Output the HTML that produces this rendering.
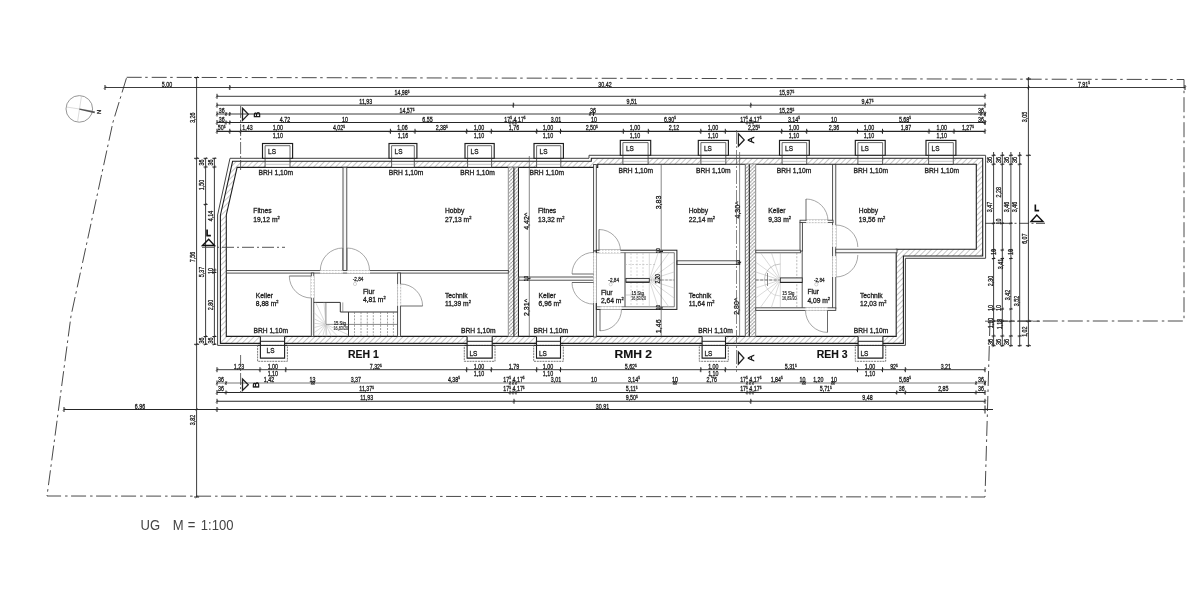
<!DOCTYPE html>
<html><head><meta charset="utf-8"><style>
html,body{margin:0;padding:0;background:#fff;width:1200px;height:600px;overflow:hidden}
svg{display:block;font-family:"Liberation Sans",sans-serif;filter:blur(0.35px)}
</style></head><body>
<svg width="1200" height="600" viewBox="0 0 1200 600">
<rect width="1200" height="600" fill="#fff"/>
<defs><pattern id="h" patternUnits="userSpaceOnUse" width="3.9" height="3.9" patternTransform="rotate(45)">
<rect width="3.9" height="3.9" fill="#fff"/><line x1="0" y1="0" x2="0" y2="3.9" stroke="#9a9a9a" stroke-width="1.1"/></pattern></defs>
<polyline points="126.70,77.30 1184.00,79.50 1184.00,321.00 988.00,321.00" fill="none" stroke="#4a4a4a" stroke-width="1.0" stroke-dasharray="15 3.5 2.5 4"/>
<polyline points="990.00,321.00 985.00,497.00 47.00,496.00 71.00,316.00 113.00,122.00 126.70,77.30" fill="none" stroke="#4a4a4a" stroke-width="1.0" stroke-dasharray="15 3.5 2.5 4"/>
<circle cx="79.3" cy="108.9" r="13.3" fill="none" stroke="#8a8a8a" stroke-width="0.9"/>
<line x1="81.50" y1="96.00" x2="77.50" y2="122.00" stroke="#c4c4c4" stroke-width="0.6"/>
<line x1="66.50" y1="107.00" x2="92.50" y2="111.00" stroke="#c4c4c4" stroke-width="0.6"/>
<polygon points="79.5,108.6 95,111.6 94.6,113.2 79.3,109.8" fill="#555"/>
<text transform="translate(96.80 111.90) rotate(90)" font-size="6" text-anchor="middle" font-weight="normal" fill="#333" stroke="#333" stroke-width="0.3">N</text>
<line x1="105.00" y1="87.50" x2="1185.00" y2="87.50" stroke="#262626" stroke-width="0.9"/>
<line x1="217.00" y1="96.30" x2="985.00" y2="96.30" stroke="#262626" stroke-width="0.9"/>
<line x1="217.00" y1="105.20" x2="985.00" y2="105.20" stroke="#262626" stroke-width="0.9"/>
<line x1="217.00" y1="114.00" x2="985.00" y2="114.00" stroke="#262626" stroke-width="0.9"/>
<line x1="217.00" y1="122.50" x2="985.00" y2="122.50" stroke="#262626" stroke-width="1.15"/>
<line x1="217.00" y1="131.30" x2="985.00" y2="131.30" stroke="#262626" stroke-width="1.15"/>
<line x1="105.00" y1="85.00" x2="105.00" y2="90.00" stroke="#262626" stroke-width="1.0"/>
<line x1="103.80" y1="88.70" x2="106.20" y2="86.30" stroke="#262626" stroke-width="0.6"/>
<line x1="229.80" y1="85.00" x2="229.80" y2="90.00" stroke="#262626" stroke-width="1.0"/>
<line x1="228.60" y1="88.70" x2="231.00" y2="86.30" stroke="#262626" stroke-width="0.6"/>
<line x1="1028.50" y1="85.00" x2="1028.50" y2="90.00" stroke="#262626" stroke-width="1.0"/>
<line x1="1027.30" y1="88.70" x2="1029.70" y2="86.30" stroke="#262626" stroke-width="0.6"/>
<line x1="1185.00" y1="85.00" x2="1185.00" y2="90.00" stroke="#262626" stroke-width="1.0"/>
<line x1="1183.80" y1="88.70" x2="1186.20" y2="86.30" stroke="#262626" stroke-width="0.6"/>
<line x1="217.00" y1="93.80" x2="217.00" y2="98.80" stroke="#262626" stroke-width="1.0"/>
<line x1="215.80" y1="97.50" x2="218.20" y2="95.10" stroke="#262626" stroke-width="0.6"/>
<line x1="985.00" y1="93.80" x2="985.00" y2="98.80" stroke="#262626" stroke-width="1.0"/>
<line x1="983.80" y1="97.50" x2="986.20" y2="95.10" stroke="#262626" stroke-width="0.6"/>
<line x1="217.00" y1="102.70" x2="217.00" y2="107.70" stroke="#262626" stroke-width="1.0"/>
<line x1="215.80" y1="106.40" x2="218.20" y2="104.00" stroke="#262626" stroke-width="0.6"/>
<line x1="985.00" y1="102.70" x2="985.00" y2="107.70" stroke="#262626" stroke-width="1.0"/>
<line x1="983.80" y1="106.40" x2="986.20" y2="104.00" stroke="#262626" stroke-width="0.6"/>
<line x1="217.00" y1="111.50" x2="217.00" y2="116.50" stroke="#262626" stroke-width="1.0"/>
<line x1="215.80" y1="115.20" x2="218.20" y2="112.80" stroke="#262626" stroke-width="0.6"/>
<line x1="985.00" y1="111.50" x2="985.00" y2="116.50" stroke="#262626" stroke-width="1.0"/>
<line x1="983.80" y1="115.20" x2="986.20" y2="112.80" stroke="#262626" stroke-width="0.6"/>
<line x1="217.00" y1="120.00" x2="217.00" y2="125.00" stroke="#262626" stroke-width="1.0"/>
<line x1="215.80" y1="123.70" x2="218.20" y2="121.30" stroke="#262626" stroke-width="0.6"/>
<line x1="985.00" y1="120.00" x2="985.00" y2="125.00" stroke="#262626" stroke-width="1.0"/>
<line x1="983.80" y1="123.70" x2="986.20" y2="121.30" stroke="#262626" stroke-width="0.6"/>
<line x1="217.00" y1="128.80" x2="217.00" y2="133.80" stroke="#262626" stroke-width="1.0"/>
<line x1="215.80" y1="132.50" x2="218.20" y2="130.10" stroke="#262626" stroke-width="0.6"/>
<line x1="985.00" y1="128.80" x2="985.00" y2="133.80" stroke="#262626" stroke-width="1.0"/>
<line x1="983.80" y1="132.50" x2="986.20" y2="130.10" stroke="#262626" stroke-width="0.6"/>
<line x1="513.30" y1="102.70" x2="513.30" y2="107.70" stroke="#262626" stroke-width="1.0"/>
<line x1="512.10" y1="106.40" x2="514.50" y2="104.00" stroke="#262626" stroke-width="0.6"/>
<line x1="750.80" y1="102.70" x2="750.80" y2="107.70" stroke="#262626" stroke-width="1.0"/>
<line x1="749.60" y1="106.40" x2="752.00" y2="104.00" stroke="#262626" stroke-width="0.6"/>
<line x1="229.80" y1="128.80" x2="229.80" y2="133.80" stroke="#262626" stroke-width="1.0"/>
<line x1="228.60" y1="132.50" x2="231.00" y2="130.10" stroke="#262626" stroke-width="0.6"/>
<line x1="240.60" y1="128.80" x2="240.60" y2="133.80" stroke="#262626" stroke-width="1.0"/>
<line x1="239.40" y1="132.50" x2="241.80" y2="130.10" stroke="#262626" stroke-width="0.6"/>
<line x1="390.40" y1="128.80" x2="390.40" y2="133.80" stroke="#262626" stroke-width="1.0"/>
<line x1="389.20" y1="132.50" x2="391.60" y2="130.10" stroke="#262626" stroke-width="0.6"/>
<line x1="415.00" y1="128.80" x2="415.00" y2="133.80" stroke="#262626" stroke-width="1.0"/>
<line x1="413.80" y1="132.50" x2="416.20" y2="130.10" stroke="#262626" stroke-width="0.6"/>
<line x1="466.70" y1="128.80" x2="466.70" y2="133.80" stroke="#262626" stroke-width="1.0"/>
<line x1="465.50" y1="132.50" x2="467.90" y2="130.10" stroke="#262626" stroke-width="0.6"/>
<line x1="491.30" y1="128.80" x2="491.30" y2="133.80" stroke="#262626" stroke-width="1.0"/>
<line x1="490.10" y1="132.50" x2="492.50" y2="130.10" stroke="#262626" stroke-width="0.6"/>
<line x1="536.70" y1="128.80" x2="536.70" y2="133.80" stroke="#262626" stroke-width="1.0"/>
<line x1="535.50" y1="132.50" x2="537.90" y2="130.10" stroke="#262626" stroke-width="0.6"/>
<line x1="560.50" y1="128.80" x2="560.50" y2="133.80" stroke="#262626" stroke-width="1.0"/>
<line x1="559.30" y1="132.50" x2="561.70" y2="130.10" stroke="#262626" stroke-width="0.6"/>
<line x1="623.30" y1="128.80" x2="623.30" y2="133.80" stroke="#262626" stroke-width="1.0"/>
<line x1="622.10" y1="132.50" x2="624.50" y2="130.10" stroke="#262626" stroke-width="0.6"/>
<line x1="648.30" y1="128.80" x2="648.30" y2="133.80" stroke="#262626" stroke-width="1.0"/>
<line x1="647.10" y1="132.50" x2="649.50" y2="130.10" stroke="#262626" stroke-width="0.6"/>
<line x1="700.80" y1="128.80" x2="700.80" y2="133.80" stroke="#262626" stroke-width="1.0"/>
<line x1="699.60" y1="132.50" x2="702.00" y2="130.10" stroke="#262626" stroke-width="0.6"/>
<line x1="725.30" y1="128.80" x2="725.30" y2="133.80" stroke="#262626" stroke-width="1.0"/>
<line x1="724.10" y1="132.50" x2="726.50" y2="130.10" stroke="#262626" stroke-width="0.6"/>
<line x1="781.70" y1="128.80" x2="781.70" y2="133.80" stroke="#262626" stroke-width="1.0"/>
<line x1="780.50" y1="132.50" x2="782.90" y2="130.10" stroke="#262626" stroke-width="0.6"/>
<line x1="806.70" y1="128.80" x2="806.70" y2="133.80" stroke="#262626" stroke-width="1.0"/>
<line x1="805.50" y1="132.50" x2="807.90" y2="130.10" stroke="#262626" stroke-width="0.6"/>
<line x1="857.50" y1="128.80" x2="857.50" y2="133.80" stroke="#262626" stroke-width="1.0"/>
<line x1="856.30" y1="132.50" x2="858.70" y2="130.10" stroke="#262626" stroke-width="0.6"/>
<line x1="882.50" y1="128.80" x2="882.50" y2="133.80" stroke="#262626" stroke-width="1.0"/>
<line x1="881.30" y1="132.50" x2="883.70" y2="130.10" stroke="#262626" stroke-width="0.6"/>
<line x1="929.00" y1="128.80" x2="929.00" y2="133.80" stroke="#262626" stroke-width="1.0"/>
<line x1="927.80" y1="132.50" x2="930.20" y2="130.10" stroke="#262626" stroke-width="0.6"/>
<line x1="954.00" y1="128.80" x2="954.00" y2="133.80" stroke="#262626" stroke-width="1.0"/>
<line x1="952.80" y1="132.50" x2="955.20" y2="130.10" stroke="#262626" stroke-width="0.6"/>
<line x1="226.00" y1="120.50" x2="226.00" y2="124.50" stroke="#262626" stroke-width="1.0"/>
<line x1="224.80" y1="123.70" x2="227.20" y2="121.30" stroke="#262626" stroke-width="0.6"/>
<line x1="229.80" y1="120.50" x2="229.80" y2="124.50" stroke="#262626" stroke-width="1.0"/>
<line x1="228.60" y1="123.70" x2="231.00" y2="121.30" stroke="#262626" stroke-width="0.6"/>
<line x1="510.00" y1="120.50" x2="510.00" y2="124.50" stroke="#262626" stroke-width="1.0"/>
<line x1="508.80" y1="123.70" x2="511.20" y2="121.30" stroke="#262626" stroke-width="0.6"/>
<line x1="513.00" y1="120.50" x2="513.00" y2="124.50" stroke="#262626" stroke-width="1.0"/>
<line x1="511.80" y1="123.70" x2="514.20" y2="121.30" stroke="#262626" stroke-width="0.6"/>
<line x1="516.00" y1="120.50" x2="516.00" y2="124.50" stroke="#262626" stroke-width="1.0"/>
<line x1="514.80" y1="123.70" x2="517.20" y2="121.30" stroke="#262626" stroke-width="0.6"/>
<line x1="747.00" y1="120.50" x2="747.00" y2="124.50" stroke="#262626" stroke-width="1.0"/>
<line x1="745.80" y1="123.70" x2="748.20" y2="121.30" stroke="#262626" stroke-width="0.6"/>
<line x1="750.00" y1="120.50" x2="750.00" y2="124.50" stroke="#262626" stroke-width="1.0"/>
<line x1="748.80" y1="123.70" x2="751.20" y2="121.30" stroke="#262626" stroke-width="0.6"/>
<line x1="753.00" y1="120.50" x2="753.00" y2="124.50" stroke="#262626" stroke-width="1.0"/>
<line x1="751.80" y1="123.70" x2="754.20" y2="121.30" stroke="#262626" stroke-width="0.6"/>
<line x1="985.00" y1="120.50" x2="985.00" y2="124.50" stroke="#262626" stroke-width="1.0"/>
<line x1="983.80" y1="123.70" x2="986.20" y2="121.30" stroke="#262626" stroke-width="0.6"/>
<line x1="226.00" y1="112.00" x2="226.00" y2="116.00" stroke="#262626" stroke-width="1.0"/>
<line x1="224.80" y1="115.20" x2="227.20" y2="112.80" stroke="#262626" stroke-width="0.6"/>
<line x1="229.80" y1="112.00" x2="229.80" y2="116.00" stroke="#262626" stroke-width="1.0"/>
<line x1="228.60" y1="115.20" x2="231.00" y2="112.80" stroke="#262626" stroke-width="0.6"/>
<line x1="590.00" y1="112.00" x2="590.00" y2="116.00" stroke="#262626" stroke-width="1.0"/>
<line x1="588.80" y1="115.20" x2="591.20" y2="112.80" stroke="#262626" stroke-width="0.6"/>
<line x1="593.50" y1="112.00" x2="593.50" y2="116.00" stroke="#262626" stroke-width="1.0"/>
<line x1="592.30" y1="115.20" x2="594.70" y2="112.80" stroke="#262626" stroke-width="0.6"/>
<line x1="981.00" y1="112.00" x2="981.00" y2="116.00" stroke="#262626" stroke-width="1.0"/>
<line x1="979.80" y1="115.20" x2="982.20" y2="112.80" stroke="#262626" stroke-width="0.6"/>
<line x1="985.00" y1="112.00" x2="985.00" y2="116.00" stroke="#262626" stroke-width="1.0"/>
<line x1="983.80" y1="115.20" x2="986.20" y2="112.80" stroke="#262626" stroke-width="0.6"/>
<text transform="translate(167.00 86.52) scale(0.76 1)" font-size="7" text-anchor="middle" font-weight="normal" fill="#1a1a1a" stroke="#1a1a1a" stroke-width="0.3">5,00</text>
<text transform="translate(605.00 86.52) scale(0.76 1)" font-size="7" text-anchor="middle" font-weight="normal" fill="#1a1a1a" stroke="#1a1a1a" stroke-width="0.3">30,42</text>
<text transform="translate(1084.00 86.52) scale(0.76 1)" font-size="7" text-anchor="middle" font-weight="normal" fill="#1a1a1a" stroke="#1a1a1a" stroke-width="0.3">7,91<tspan dy="-2.3" font-size="4.2">5</tspan></text>
<text transform="translate(402.00 95.02) scale(0.76 1)" font-size="7" text-anchor="middle" font-weight="normal" fill="#1a1a1a" stroke="#1a1a1a" stroke-width="0.3">14,98<tspan dy="-2.3" font-size="4.2">5</tspan></text>
<text transform="translate(786.70 95.02) scale(0.76 1)" font-size="7" text-anchor="middle" font-weight="normal" fill="#1a1a1a" stroke="#1a1a1a" stroke-width="0.3">15,97<tspan dy="-2.3" font-size="4.2">5</tspan></text>
<text transform="translate(365.80 104.22) scale(0.76 1)" font-size="7" text-anchor="middle" font-weight="normal" fill="#1a1a1a" stroke="#1a1a1a" stroke-width="0.3">11,93</text>
<text transform="translate(631.70 104.22) scale(0.76 1)" font-size="7" text-anchor="middle" font-weight="normal" fill="#1a1a1a" stroke="#1a1a1a" stroke-width="0.3">9,51</text>
<text transform="translate(867.50 104.22) scale(0.76 1)" font-size="7" text-anchor="middle" font-weight="normal" fill="#1a1a1a" stroke="#1a1a1a" stroke-width="0.3">9,47<tspan dy="-2.3" font-size="4.2">5</tspan></text>
<text transform="translate(407.00 113.02) scale(0.76 1)" font-size="7" text-anchor="middle" font-weight="normal" fill="#1a1a1a" stroke="#1a1a1a" stroke-width="0.3">14,57<tspan dy="-2.3" font-size="4.2">5</tspan></text>
<text transform="translate(786.70 113.02) scale(0.76 1)" font-size="7" text-anchor="middle" font-weight="normal" fill="#1a1a1a" stroke="#1a1a1a" stroke-width="0.3">15,25<tspan dy="-2.3" font-size="4.2">5</tspan></text>
<text transform="translate(221.70 113.12) scale(0.76 1)" font-size="7" text-anchor="middle" font-weight="normal" fill="#1a1a1a" stroke="#1a1a1a" stroke-width="0.3">36</text>
<text transform="translate(593.00 112.82) scale(0.76 1)" font-size="7" text-anchor="middle" font-weight="normal" fill="#1a1a1a" stroke="#1a1a1a" stroke-width="0.3">36</text>
<text transform="translate(981.00 112.82) scale(0.76 1)" font-size="7" text-anchor="middle" font-weight="normal" fill="#1a1a1a" stroke="#1a1a1a" stroke-width="0.3">36</text>
<text transform="translate(221.70 121.52) scale(0.76 1)" font-size="7" text-anchor="middle" font-weight="normal" fill="#1a1a1a" stroke="#1a1a1a" stroke-width="0.3">36</text>
<text transform="translate(285.00 121.52) scale(0.76 1)" font-size="7" text-anchor="middle" font-weight="normal" fill="#1a1a1a" stroke="#1a1a1a" stroke-width="0.3">4,72</text>
<text transform="translate(345.00 121.52) scale(0.76 1)" font-size="7" text-anchor="middle" font-weight="normal" fill="#1a1a1a" stroke="#1a1a1a" stroke-width="0.3">10</text>
<text transform="translate(427.50 121.52) scale(0.76 1)" font-size="7" text-anchor="middle" font-weight="normal" fill="#1a1a1a" stroke="#1a1a1a" stroke-width="0.3">6,55</text>
<text transform="translate(515.00 121.52) scale(0.76 1)" font-size="7" text-anchor="middle" font-weight="normal" fill="#1a1a1a" stroke="#1a1a1a" stroke-width="0.3">17<tspan dy="-2.3" font-size="4.2">5</tspan><tspan dy="2.3"> 4 17<tspan dy="-2.3" font-size="4.2">5</tspan></tspan></text>
<text transform="translate(556.00 121.52) scale(0.76 1)" font-size="7" text-anchor="middle" font-weight="normal" fill="#1a1a1a" stroke="#1a1a1a" stroke-width="0.3">3,01</text>
<text transform="translate(594.00 121.52) scale(0.76 1)" font-size="7" text-anchor="middle" font-weight="normal" fill="#1a1a1a" stroke="#1a1a1a" stroke-width="0.3">10</text>
<text transform="translate(670.00 121.52) scale(0.76 1)" font-size="7" text-anchor="middle" font-weight="normal" fill="#1a1a1a" stroke="#1a1a1a" stroke-width="0.3">6,90<tspan dy="-2.3" font-size="4.2">5</tspan></text>
<text transform="translate(750.80 121.52) scale(0.76 1)" font-size="7" text-anchor="middle" font-weight="normal" fill="#1a1a1a" stroke="#1a1a1a" stroke-width="0.3">17<tspan dy="-2.3" font-size="4.2">5</tspan><tspan dy="2.3"> 4 17<tspan dy="-2.3" font-size="4.2">5</tspan></tspan></text>
<text transform="translate(794.00 121.52) scale(0.76 1)" font-size="7" text-anchor="middle" font-weight="normal" fill="#1a1a1a" stroke="#1a1a1a" stroke-width="0.3">3,14<tspan dy="-2.3" font-size="4.2">5</tspan></text>
<text transform="translate(834.00 121.52) scale(0.76 1)" font-size="7" text-anchor="middle" font-weight="normal" fill="#1a1a1a" stroke="#1a1a1a" stroke-width="0.3">10</text>
<text transform="translate(905.00 121.52) scale(0.76 1)" font-size="7" text-anchor="middle" font-weight="normal" fill="#1a1a1a" stroke="#1a1a1a" stroke-width="0.3">5,68<tspan dy="-2.3" font-size="4.2">5</tspan></text>
<text transform="translate(981.00 121.52) scale(0.76 1)" font-size="7" text-anchor="middle" font-weight="normal" fill="#1a1a1a" stroke="#1a1a1a" stroke-width="0.3">36</text>
<text transform="translate(221.70 130.02) scale(0.76 1)" font-size="7" text-anchor="middle" font-weight="normal" fill="#1a1a1a" stroke="#1a1a1a" stroke-width="0.3">50<tspan dy="-2.3" font-size="4.2">5</tspan></text>
<text transform="translate(247.50 130.02) scale(0.76 1)" font-size="7" text-anchor="middle" font-weight="normal" fill="#1a1a1a" stroke="#1a1a1a" stroke-width="0.3">1,43</text>
<text transform="translate(277.80 130.02) scale(0.76 1)" font-size="7" text-anchor="middle" font-weight="normal" fill="#1a1a1a" stroke="#1a1a1a" stroke-width="0.3">1,00</text>
<text transform="translate(339.00 130.02) scale(0.76 1)" font-size="7" text-anchor="middle" font-weight="normal" fill="#1a1a1a" stroke="#1a1a1a" stroke-width="0.3">4,02<tspan dy="-2.3" font-size="4.2">5</tspan></text>
<text transform="translate(402.50 130.02) scale(0.76 1)" font-size="7" text-anchor="middle" font-weight="normal" fill="#1a1a1a" stroke="#1a1a1a" stroke-width="0.3">1,06</text>
<text transform="translate(441.70 130.02) scale(0.76 1)" font-size="7" text-anchor="middle" font-weight="normal" fill="#1a1a1a" stroke="#1a1a1a" stroke-width="0.3">2,38<tspan dy="-2.3" font-size="4.2">5</tspan></text>
<text transform="translate(479.00 130.02) scale(0.76 1)" font-size="7" text-anchor="middle" font-weight="normal" fill="#1a1a1a" stroke="#1a1a1a" stroke-width="0.3">1,00</text>
<text transform="translate(514.00 130.02) scale(0.76 1)" font-size="7" text-anchor="middle" font-weight="normal" fill="#1a1a1a" stroke="#1a1a1a" stroke-width="0.3">1,76</text>
<text transform="translate(548.00 130.02) scale(0.76 1)" font-size="7" text-anchor="middle" font-weight="normal" fill="#1a1a1a" stroke="#1a1a1a" stroke-width="0.3">1,00</text>
<text transform="translate(591.70 130.02) scale(0.76 1)" font-size="7" text-anchor="middle" font-weight="normal" fill="#1a1a1a" stroke="#1a1a1a" stroke-width="0.3">2,50<tspan dy="-2.3" font-size="4.2">5</tspan></text>
<text transform="translate(635.00 130.02) scale(0.76 1)" font-size="7" text-anchor="middle" font-weight="normal" fill="#1a1a1a" stroke="#1a1a1a" stroke-width="0.3">1,00</text>
<text transform="translate(674.00 130.02) scale(0.76 1)" font-size="7" text-anchor="middle" font-weight="normal" fill="#1a1a1a" stroke="#1a1a1a" stroke-width="0.3">2,12</text>
<text transform="translate(713.00 130.02) scale(0.76 1)" font-size="7" text-anchor="middle" font-weight="normal" fill="#1a1a1a" stroke="#1a1a1a" stroke-width="0.3">1,00</text>
<text transform="translate(754.00 130.02) scale(0.76 1)" font-size="7" text-anchor="middle" font-weight="normal" fill="#1a1a1a" stroke="#1a1a1a" stroke-width="0.3">2,25<tspan dy="-2.3" font-size="4.2">5</tspan></text>
<text transform="translate(794.00 130.02) scale(0.76 1)" font-size="7" text-anchor="middle" font-weight="normal" fill="#1a1a1a" stroke="#1a1a1a" stroke-width="0.3">1,00</text>
<text transform="translate(834.00 130.02) scale(0.76 1)" font-size="7" text-anchor="middle" font-weight="normal" fill="#1a1a1a" stroke="#1a1a1a" stroke-width="0.3">2,36</text>
<text transform="translate(869.00 130.02) scale(0.76 1)" font-size="7" text-anchor="middle" font-weight="normal" fill="#1a1a1a" stroke="#1a1a1a" stroke-width="0.3">1,00</text>
<text transform="translate(906.00 130.02) scale(0.76 1)" font-size="7" text-anchor="middle" font-weight="normal" fill="#1a1a1a" stroke="#1a1a1a" stroke-width="0.3">1,87</text>
<text transform="translate(941.70 130.02) scale(0.76 1)" font-size="7" text-anchor="middle" font-weight="normal" fill="#1a1a1a" stroke="#1a1a1a" stroke-width="0.3">1,00</text>
<text transform="translate(968.00 130.02) scale(0.76 1)" font-size="7" text-anchor="middle" font-weight="normal" fill="#1a1a1a" stroke="#1a1a1a" stroke-width="0.3">1,27<tspan dy="-2.3" font-size="4.2">5</tspan></text>
<text transform="translate(277.80 137.52) scale(0.76 1)" font-size="7" text-anchor="middle" font-weight="normal" fill="#1a1a1a" stroke="#1a1a1a" stroke-width="0.3">1,10</text>
<text transform="translate(403.00 137.52) scale(0.76 1)" font-size="7" text-anchor="middle" font-weight="normal" fill="#1a1a1a" stroke="#1a1a1a" stroke-width="0.3">1,16</text>
<text transform="translate(479.00 137.52) scale(0.76 1)" font-size="7" text-anchor="middle" font-weight="normal" fill="#1a1a1a" stroke="#1a1a1a" stroke-width="0.3">1,10</text>
<text transform="translate(548.00 137.52) scale(0.76 1)" font-size="7" text-anchor="middle" font-weight="normal" fill="#1a1a1a" stroke="#1a1a1a" stroke-width="0.3">1,10</text>
<text transform="translate(635.00 137.52) scale(0.76 1)" font-size="7" text-anchor="middle" font-weight="normal" fill="#1a1a1a" stroke="#1a1a1a" stroke-width="0.3">1,10</text>
<text transform="translate(713.00 137.52) scale(0.76 1)" font-size="7" text-anchor="middle" font-weight="normal" fill="#1a1a1a" stroke="#1a1a1a" stroke-width="0.3">1,10</text>
<text transform="translate(794.00 137.52) scale(0.76 1)" font-size="7" text-anchor="middle" font-weight="normal" fill="#1a1a1a" stroke="#1a1a1a" stroke-width="0.3">1,10</text>
<text transform="translate(869.00 137.52) scale(0.76 1)" font-size="7" text-anchor="middle" font-weight="normal" fill="#1a1a1a" stroke="#1a1a1a" stroke-width="0.3">1,10</text>
<text transform="translate(941.70 137.52) scale(0.76 1)" font-size="7" text-anchor="middle" font-weight="normal" fill="#1a1a1a" stroke="#1a1a1a" stroke-width="0.3">1,10</text>
<line x1="217.00" y1="369.70" x2="985.00" y2="369.70" stroke="#262626" stroke-width="0.9"/>
<line x1="217.00" y1="383.00" x2="985.00" y2="383.00" stroke="#6a6a6a" stroke-width="0.9"/>
<line x1="217.00" y1="392.50" x2="985.00" y2="392.50" stroke="#262626" stroke-width="1.1"/>
<line x1="217.00" y1="401.30" x2="985.00" y2="401.30" stroke="#262626" stroke-width="1.1"/>
<line x1="64.00" y1="409.50" x2="993.00" y2="409.50" stroke="#262626" stroke-width="1.1"/>
<line x1="217.00" y1="367.20" x2="217.00" y2="372.20" stroke="#262626" stroke-width="1.0"/>
<line x1="215.80" y1="370.90" x2="218.20" y2="368.50" stroke="#262626" stroke-width="0.6"/>
<line x1="985.00" y1="367.20" x2="985.00" y2="372.20" stroke="#262626" stroke-width="1.0"/>
<line x1="983.80" y1="370.90" x2="986.20" y2="368.50" stroke="#262626" stroke-width="0.6"/>
<line x1="217.00" y1="380.50" x2="217.00" y2="385.50" stroke="#262626" stroke-width="1.0"/>
<line x1="215.80" y1="384.20" x2="218.20" y2="381.80" stroke="#262626" stroke-width="0.6"/>
<line x1="985.00" y1="380.50" x2="985.00" y2="385.50" stroke="#262626" stroke-width="1.0"/>
<line x1="983.80" y1="384.20" x2="986.20" y2="381.80" stroke="#262626" stroke-width="0.6"/>
<line x1="217.00" y1="390.00" x2="217.00" y2="395.00" stroke="#262626" stroke-width="1.0"/>
<line x1="215.80" y1="393.70" x2="218.20" y2="391.30" stroke="#262626" stroke-width="0.6"/>
<line x1="985.00" y1="390.00" x2="985.00" y2="395.00" stroke="#262626" stroke-width="1.0"/>
<line x1="983.80" y1="393.70" x2="986.20" y2="391.30" stroke="#262626" stroke-width="0.6"/>
<line x1="217.00" y1="398.80" x2="217.00" y2="403.80" stroke="#262626" stroke-width="1.0"/>
<line x1="215.80" y1="402.50" x2="218.20" y2="400.10" stroke="#262626" stroke-width="0.6"/>
<line x1="985.00" y1="398.80" x2="985.00" y2="403.80" stroke="#262626" stroke-width="1.0"/>
<line x1="983.80" y1="402.50" x2="986.20" y2="400.10" stroke="#262626" stroke-width="0.6"/>
<line x1="64.00" y1="407.00" x2="64.00" y2="412.00" stroke="#262626" stroke-width="1.0"/>
<line x1="62.80" y1="410.70" x2="65.20" y2="408.30" stroke="#262626" stroke-width="0.6"/>
<line x1="217.00" y1="407.00" x2="217.00" y2="412.00" stroke="#262626" stroke-width="1.0"/>
<line x1="215.80" y1="410.70" x2="218.20" y2="408.30" stroke="#262626" stroke-width="0.6"/>
<line x1="985.00" y1="405.50" x2="985.00" y2="413.50" stroke="#262626" stroke-width="1.0"/>
<line x1="983.80" y1="410.70" x2="986.20" y2="408.30" stroke="#262626" stroke-width="0.6"/>
<line x1="260.00" y1="367.20" x2="260.00" y2="372.20" stroke="#262626" stroke-width="1.0"/>
<line x1="258.80" y1="370.90" x2="261.20" y2="368.50" stroke="#262626" stroke-width="0.6"/>
<line x1="285.80" y1="367.20" x2="285.80" y2="372.20" stroke="#262626" stroke-width="1.0"/>
<line x1="284.60" y1="370.90" x2="287.00" y2="368.50" stroke="#262626" stroke-width="0.6"/>
<line x1="466.70" y1="367.20" x2="466.70" y2="372.20" stroke="#262626" stroke-width="1.0"/>
<line x1="465.50" y1="370.90" x2="467.90" y2="368.50" stroke="#262626" stroke-width="0.6"/>
<line x1="491.30" y1="367.20" x2="491.30" y2="372.20" stroke="#262626" stroke-width="1.0"/>
<line x1="490.10" y1="370.90" x2="492.50" y2="368.50" stroke="#262626" stroke-width="0.6"/>
<line x1="536.70" y1="367.20" x2="536.70" y2="372.20" stroke="#262626" stroke-width="1.0"/>
<line x1="535.50" y1="370.90" x2="537.90" y2="368.50" stroke="#262626" stroke-width="0.6"/>
<line x1="560.50" y1="367.20" x2="560.50" y2="372.20" stroke="#262626" stroke-width="1.0"/>
<line x1="559.30" y1="370.90" x2="561.70" y2="368.50" stroke="#262626" stroke-width="0.6"/>
<line x1="700.80" y1="367.20" x2="700.80" y2="372.20" stroke="#262626" stroke-width="1.0"/>
<line x1="699.60" y1="370.90" x2="702.00" y2="368.50" stroke="#262626" stroke-width="0.6"/>
<line x1="725.30" y1="367.20" x2="725.30" y2="372.20" stroke="#262626" stroke-width="1.0"/>
<line x1="724.10" y1="370.90" x2="726.50" y2="368.50" stroke="#262626" stroke-width="0.6"/>
<line x1="857.50" y1="367.20" x2="857.50" y2="372.20" stroke="#262626" stroke-width="1.0"/>
<line x1="856.30" y1="370.90" x2="858.70" y2="368.50" stroke="#262626" stroke-width="0.6"/>
<line x1="882.50" y1="367.20" x2="882.50" y2="372.20" stroke="#262626" stroke-width="1.0"/>
<line x1="881.30" y1="370.90" x2="883.70" y2="368.50" stroke="#262626" stroke-width="0.6"/>
<line x1="905.30" y1="367.20" x2="905.30" y2="372.20" stroke="#262626" stroke-width="1.0"/>
<line x1="904.10" y1="370.90" x2="906.50" y2="368.50" stroke="#262626" stroke-width="0.6"/>
<line x1="226.00" y1="381.00" x2="226.00" y2="385.00" stroke="#262626" stroke-width="1.0"/>
<line x1="224.80" y1="384.20" x2="227.20" y2="381.80" stroke="#262626" stroke-width="0.6"/>
<line x1="312.00" y1="381.00" x2="312.00" y2="385.00" stroke="#262626" stroke-width="1.0"/>
<line x1="310.80" y1="384.20" x2="313.20" y2="381.80" stroke="#262626" stroke-width="0.6"/>
<line x1="314.00" y1="381.00" x2="314.00" y2="385.00" stroke="#262626" stroke-width="1.0"/>
<line x1="312.80" y1="384.20" x2="315.20" y2="381.80" stroke="#262626" stroke-width="0.6"/>
<line x1="510.00" y1="381.00" x2="510.00" y2="385.00" stroke="#262626" stroke-width="1.0"/>
<line x1="508.80" y1="384.20" x2="511.20" y2="381.80" stroke="#262626" stroke-width="0.6"/>
<line x1="513.00" y1="381.00" x2="513.00" y2="385.00" stroke="#262626" stroke-width="1.0"/>
<line x1="511.80" y1="384.20" x2="514.20" y2="381.80" stroke="#262626" stroke-width="0.6"/>
<line x1="516.00" y1="381.00" x2="516.00" y2="385.00" stroke="#262626" stroke-width="1.0"/>
<line x1="514.80" y1="384.20" x2="517.20" y2="381.80" stroke="#262626" stroke-width="0.6"/>
<line x1="674.00" y1="381.00" x2="674.00" y2="385.00" stroke="#262626" stroke-width="1.0"/>
<line x1="672.80" y1="384.20" x2="675.20" y2="381.80" stroke="#262626" stroke-width="0.6"/>
<line x1="676.00" y1="381.00" x2="676.00" y2="385.00" stroke="#262626" stroke-width="1.0"/>
<line x1="674.80" y1="384.20" x2="677.20" y2="381.80" stroke="#262626" stroke-width="0.6"/>
<line x1="747.00" y1="381.00" x2="747.00" y2="385.00" stroke="#262626" stroke-width="1.0"/>
<line x1="745.80" y1="384.20" x2="748.20" y2="381.80" stroke="#262626" stroke-width="0.6"/>
<line x1="750.00" y1="381.00" x2="750.00" y2="385.00" stroke="#262626" stroke-width="1.0"/>
<line x1="748.80" y1="384.20" x2="751.20" y2="381.80" stroke="#262626" stroke-width="0.6"/>
<line x1="753.00" y1="381.00" x2="753.00" y2="385.00" stroke="#262626" stroke-width="1.0"/>
<line x1="751.80" y1="384.20" x2="754.20" y2="381.80" stroke="#262626" stroke-width="0.6"/>
<line x1="803.00" y1="381.00" x2="803.00" y2="385.00" stroke="#262626" stroke-width="1.0"/>
<line x1="801.80" y1="384.20" x2="804.20" y2="381.80" stroke="#262626" stroke-width="0.6"/>
<line x1="805.00" y1="381.00" x2="805.00" y2="385.00" stroke="#262626" stroke-width="1.0"/>
<line x1="803.80" y1="384.20" x2="806.20" y2="381.80" stroke="#262626" stroke-width="0.6"/>
<line x1="832.00" y1="381.00" x2="832.00" y2="385.00" stroke="#262626" stroke-width="1.0"/>
<line x1="830.80" y1="384.20" x2="833.20" y2="381.80" stroke="#262626" stroke-width="0.6"/>
<line x1="834.00" y1="381.00" x2="834.00" y2="385.00" stroke="#262626" stroke-width="1.0"/>
<line x1="832.80" y1="384.20" x2="835.20" y2="381.80" stroke="#262626" stroke-width="0.6"/>
<line x1="976.00" y1="381.00" x2="976.00" y2="385.00" stroke="#262626" stroke-width="1.0"/>
<line x1="974.80" y1="384.20" x2="977.20" y2="381.80" stroke="#262626" stroke-width="0.6"/>
<line x1="985.00" y1="381.00" x2="985.00" y2="385.00" stroke="#262626" stroke-width="1.0"/>
<line x1="983.80" y1="384.20" x2="986.20" y2="381.80" stroke="#262626" stroke-width="0.6"/>
<line x1="226.00" y1="390.50" x2="226.00" y2="394.50" stroke="#262626" stroke-width="1.0"/>
<line x1="224.80" y1="393.70" x2="227.20" y2="391.30" stroke="#262626" stroke-width="0.6"/>
<line x1="510.00" y1="390.50" x2="510.00" y2="394.50" stroke="#262626" stroke-width="1.0"/>
<line x1="508.80" y1="393.70" x2="511.20" y2="391.30" stroke="#262626" stroke-width="0.6"/>
<line x1="513.00" y1="390.50" x2="513.00" y2="394.50" stroke="#262626" stroke-width="1.0"/>
<line x1="511.80" y1="393.70" x2="514.20" y2="391.30" stroke="#262626" stroke-width="0.6"/>
<line x1="516.00" y1="390.50" x2="516.00" y2="394.50" stroke="#262626" stroke-width="1.0"/>
<line x1="514.80" y1="393.70" x2="517.20" y2="391.30" stroke="#262626" stroke-width="0.6"/>
<line x1="747.00" y1="390.50" x2="747.00" y2="394.50" stroke="#262626" stroke-width="1.0"/>
<line x1="745.80" y1="393.70" x2="748.20" y2="391.30" stroke="#262626" stroke-width="0.6"/>
<line x1="750.00" y1="390.50" x2="750.00" y2="394.50" stroke="#262626" stroke-width="1.0"/>
<line x1="748.80" y1="393.70" x2="751.20" y2="391.30" stroke="#262626" stroke-width="0.6"/>
<line x1="753.00" y1="390.50" x2="753.00" y2="394.50" stroke="#262626" stroke-width="1.0"/>
<line x1="751.80" y1="393.70" x2="754.20" y2="391.30" stroke="#262626" stroke-width="0.6"/>
<line x1="896.70" y1="390.50" x2="896.70" y2="394.50" stroke="#262626" stroke-width="1.0"/>
<line x1="895.50" y1="393.70" x2="897.90" y2="391.30" stroke="#262626" stroke-width="0.6"/>
<line x1="905.30" y1="390.50" x2="905.30" y2="394.50" stroke="#262626" stroke-width="1.0"/>
<line x1="904.10" y1="393.70" x2="906.50" y2="391.30" stroke="#262626" stroke-width="0.6"/>
<line x1="976.00" y1="390.50" x2="976.00" y2="394.50" stroke="#262626" stroke-width="1.0"/>
<line x1="974.80" y1="393.70" x2="977.20" y2="391.30" stroke="#262626" stroke-width="0.6"/>
<line x1="514.00" y1="398.80" x2="514.00" y2="403.80" stroke="#262626" stroke-width="1.0"/>
<line x1="512.80" y1="402.50" x2="515.20" y2="400.10" stroke="#262626" stroke-width="0.6"/>
<line x1="750.80" y1="398.80" x2="750.80" y2="403.80" stroke="#262626" stroke-width="1.0"/>
<line x1="749.60" y1="402.50" x2="752.00" y2="400.10" stroke="#262626" stroke-width="0.6"/>
<text transform="translate(140.00 408.52) scale(0.76 1)" font-size="7" text-anchor="middle" font-weight="normal" fill="#1a1a1a" stroke="#1a1a1a" stroke-width="0.3">6,96</text>
<text transform="translate(602.50 408.52) scale(0.76 1)" font-size="7" text-anchor="middle" font-weight="normal" fill="#1a1a1a" stroke="#1a1a1a" stroke-width="0.3">30,91</text>
<text transform="translate(239.00 369.02) scale(0.76 1)" font-size="7" text-anchor="middle" font-weight="normal" fill="#1a1a1a" stroke="#1a1a1a" stroke-width="0.3">1,23</text>
<text transform="translate(272.80 369.02) scale(0.76 1)" font-size="7" text-anchor="middle" font-weight="normal" fill="#1a1a1a" stroke="#1a1a1a" stroke-width="0.3">1,00</text>
<text transform="translate(375.80 369.02) scale(0.76 1)" font-size="7" text-anchor="middle" font-weight="normal" fill="#1a1a1a" stroke="#1a1a1a" stroke-width="0.3">7,32<tspan dy="-2.3" font-size="4.2">5</tspan></text>
<text transform="translate(479.00 369.02) scale(0.76 1)" font-size="7" text-anchor="middle" font-weight="normal" fill="#1a1a1a" stroke="#1a1a1a" stroke-width="0.3">1,00</text>
<text transform="translate(514.00 369.02) scale(0.76 1)" font-size="7" text-anchor="middle" font-weight="normal" fill="#1a1a1a" stroke="#1a1a1a" stroke-width="0.3">1,79</text>
<text transform="translate(548.00 369.02) scale(0.76 1)" font-size="7" text-anchor="middle" font-weight="normal" fill="#1a1a1a" stroke="#1a1a1a" stroke-width="0.3">1,00</text>
<text transform="translate(630.80 369.02) scale(0.76 1)" font-size="7" text-anchor="middle" font-weight="normal" fill="#1a1a1a" stroke="#1a1a1a" stroke-width="0.3">5,62<tspan dy="-2.3" font-size="4.2">5</tspan></text>
<text transform="translate(713.30 369.02) scale(0.76 1)" font-size="7" text-anchor="middle" font-weight="normal" fill="#1a1a1a" stroke="#1a1a1a" stroke-width="0.3">1,00</text>
<text transform="translate(790.80 369.02) scale(0.76 1)" font-size="7" text-anchor="middle" font-weight="normal" fill="#1a1a1a" stroke="#1a1a1a" stroke-width="0.3">5,31<tspan dy="-2.3" font-size="4.2">5</tspan></text>
<text transform="translate(870.00 369.02) scale(0.76 1)" font-size="7" text-anchor="middle" font-weight="normal" fill="#1a1a1a" stroke="#1a1a1a" stroke-width="0.3">1,00</text>
<text transform="translate(894.00 369.02) scale(0.76 1)" font-size="7" text-anchor="middle" font-weight="normal" fill="#1a1a1a" stroke="#1a1a1a" stroke-width="0.3">92<tspan dy="-2.3" font-size="4.2">5</tspan></text>
<text transform="translate(945.80 369.02) scale(0.76 1)" font-size="7" text-anchor="middle" font-weight="normal" fill="#1a1a1a" stroke="#1a1a1a" stroke-width="0.3">3,21</text>
<text transform="translate(272.80 375.82) scale(0.76 1)" font-size="7" text-anchor="middle" font-weight="normal" fill="#1a1a1a" stroke="#1a1a1a" stroke-width="0.3">1,10</text>
<text transform="translate(479.00 375.82) scale(0.76 1)" font-size="7" text-anchor="middle" font-weight="normal" fill="#1a1a1a" stroke="#1a1a1a" stroke-width="0.3">1,10</text>
<text transform="translate(548.00 375.82) scale(0.76 1)" font-size="7" text-anchor="middle" font-weight="normal" fill="#1a1a1a" stroke="#1a1a1a" stroke-width="0.3">1,10</text>
<text transform="translate(713.30 375.82) scale(0.76 1)" font-size="7" text-anchor="middle" font-weight="normal" fill="#1a1a1a" stroke="#1a1a1a" stroke-width="0.3">1,10</text>
<text transform="translate(870.00 375.82) scale(0.76 1)" font-size="7" text-anchor="middle" font-weight="normal" fill="#1a1a1a" stroke="#1a1a1a" stroke-width="0.3">1,10</text>
<text transform="translate(221.00 381.52) scale(0.76 1)" font-size="7" text-anchor="middle" font-weight="normal" fill="#1a1a1a" stroke="#1a1a1a" stroke-width="0.3">36</text>
<text transform="translate(269.00 381.52) scale(0.76 1)" font-size="7" text-anchor="middle" font-weight="normal" fill="#1a1a1a" stroke="#1a1a1a" stroke-width="0.3">1,42</text>
<text transform="translate(312.50 381.52) scale(0.76 1)" font-size="7" text-anchor="middle" font-weight="normal" fill="#1a1a1a" stroke="#1a1a1a" stroke-width="0.3">13</text>
<text transform="translate(355.80 381.52) scale(0.76 1)" font-size="7" text-anchor="middle" font-weight="normal" fill="#1a1a1a" stroke="#1a1a1a" stroke-width="0.3">3,37</text>
<text transform="translate(454.00 381.52) scale(0.76 1)" font-size="7" text-anchor="middle" font-weight="normal" fill="#1a1a1a" stroke="#1a1a1a" stroke-width="0.3">4,38<tspan dy="-2.3" font-size="4.2">5</tspan></text>
<text transform="translate(514.00 381.52) scale(0.76 1)" font-size="7" text-anchor="middle" font-weight="normal" fill="#1a1a1a" stroke="#1a1a1a" stroke-width="0.3">17<tspan dy="-2.3" font-size="4.2">5</tspan><tspan dy="2.3"> 4 17<tspan dy="-2.3" font-size="4.2">5</tspan></tspan></text>
<text transform="translate(556.00 381.52) scale(0.76 1)" font-size="7" text-anchor="middle" font-weight="normal" fill="#1a1a1a" stroke="#1a1a1a" stroke-width="0.3">3,01</text>
<text transform="translate(594.00 381.52) scale(0.76 1)" font-size="7" text-anchor="middle" font-weight="normal" fill="#1a1a1a" stroke="#1a1a1a" stroke-width="0.3">10</text>
<text transform="translate(634.00 381.52) scale(0.76 1)" font-size="7" text-anchor="middle" font-weight="normal" fill="#1a1a1a" stroke="#1a1a1a" stroke-width="0.3">3,14<tspan dy="-2.3" font-size="4.2">5</tspan></text>
<text transform="translate(675.00 381.52) scale(0.76 1)" font-size="7" text-anchor="middle" font-weight="normal" fill="#1a1a1a" stroke="#1a1a1a" stroke-width="0.3">10</text>
<text transform="translate(711.70 381.52) scale(0.76 1)" font-size="7" text-anchor="middle" font-weight="normal" fill="#1a1a1a" stroke="#1a1a1a" stroke-width="0.3">2,76</text>
<text transform="translate(750.80 381.52) scale(0.76 1)" font-size="7" text-anchor="middle" font-weight="normal" fill="#1a1a1a" stroke="#1a1a1a" stroke-width="0.3">17<tspan dy="-2.3" font-size="4.2">5</tspan><tspan dy="2.3"> 4 17<tspan dy="-2.3" font-size="4.2">5</tspan></tspan></text>
<text transform="translate(776.70 381.52) scale(0.76 1)" font-size="7" text-anchor="middle" font-weight="normal" fill="#1a1a1a" stroke="#1a1a1a" stroke-width="0.3">1,84<tspan dy="-2.3" font-size="4.2">5</tspan></text>
<text transform="translate(802.50 381.52) scale(0.76 1)" font-size="7" text-anchor="middle" font-weight="normal" fill="#1a1a1a" stroke="#1a1a1a" stroke-width="0.3">10</text>
<text transform="translate(818.30 381.52) scale(0.76 1)" font-size="7" text-anchor="middle" font-weight="normal" fill="#1a1a1a" stroke="#1a1a1a" stroke-width="0.3">1,20</text>
<text transform="translate(834.00 381.52) scale(0.76 1)" font-size="7" text-anchor="middle" font-weight="normal" fill="#1a1a1a" stroke="#1a1a1a" stroke-width="0.3">10</text>
<text transform="translate(905.00 381.52) scale(0.76 1)" font-size="7" text-anchor="middle" font-weight="normal" fill="#1a1a1a" stroke="#1a1a1a" stroke-width="0.3">5,68<tspan dy="-2.3" font-size="4.2">5</tspan></text>
<text transform="translate(981.00 381.52) scale(0.76 1)" font-size="7" text-anchor="middle" font-weight="normal" fill="#1a1a1a" stroke="#1a1a1a" stroke-width="0.3">36</text>
<text transform="translate(221.00 391.02) scale(0.76 1)" font-size="7" text-anchor="middle" font-weight="normal" fill="#1a1a1a" stroke="#1a1a1a" stroke-width="0.3">36</text>
<text transform="translate(366.70 391.02) scale(0.76 1)" font-size="7" text-anchor="middle" font-weight="normal" fill="#1a1a1a" stroke="#1a1a1a" stroke-width="0.3">11,37<tspan dy="-2.3" font-size="4.2">5</tspan></text>
<text transform="translate(514.00 391.02) scale(0.76 1)" font-size="7" text-anchor="middle" font-weight="normal" fill="#1a1a1a" stroke="#1a1a1a" stroke-width="0.3">17<tspan dy="-2.3" font-size="4.2">5</tspan><tspan dy="2.3"> 4 17<tspan dy="-2.3" font-size="4.2">5</tspan></tspan></text>
<text transform="translate(631.70 391.02) scale(0.76 1)" font-size="7" text-anchor="middle" font-weight="normal" fill="#1a1a1a" stroke="#1a1a1a" stroke-width="0.3">5,11<tspan dy="-2.3" font-size="4.2">5</tspan></text>
<text transform="translate(750.80 391.02) scale(0.76 1)" font-size="7" text-anchor="middle" font-weight="normal" fill="#1a1a1a" stroke="#1a1a1a" stroke-width="0.3">17<tspan dy="-2.3" font-size="4.2">5</tspan><tspan dy="2.3"> 4 17<tspan dy="-2.3" font-size="4.2">5</tspan></tspan></text>
<text transform="translate(825.80 391.02) scale(0.76 1)" font-size="7" text-anchor="middle" font-weight="normal" fill="#1a1a1a" stroke="#1a1a1a" stroke-width="0.3">5,71<tspan dy="-2.3" font-size="4.2">5</tspan></text>
<text transform="translate(901.70 391.02) scale(0.76 1)" font-size="7" text-anchor="middle" font-weight="normal" fill="#1a1a1a" stroke="#1a1a1a" stroke-width="0.3">36</text>
<text transform="translate(943.30 391.02) scale(0.76 1)" font-size="7" text-anchor="middle" font-weight="normal" fill="#1a1a1a" stroke="#1a1a1a" stroke-width="0.3">2,85</text>
<text transform="translate(981.00 391.02) scale(0.76 1)" font-size="7" text-anchor="middle" font-weight="normal" fill="#1a1a1a" stroke="#1a1a1a" stroke-width="0.3">36</text>
<text transform="translate(366.70 400.02) scale(0.76 1)" font-size="7" text-anchor="middle" font-weight="normal" fill="#1a1a1a" stroke="#1a1a1a" stroke-width="0.3">11,93</text>
<text transform="translate(631.70 400.02) scale(0.76 1)" font-size="7" text-anchor="middle" font-weight="normal" fill="#1a1a1a" stroke="#1a1a1a" stroke-width="0.3">9,50<tspan dy="-2.3" font-size="4.2">5</tspan></text>
<text transform="translate(867.50 400.02) scale(0.76 1)" font-size="7" text-anchor="middle" font-weight="normal" fill="#1a1a1a" stroke="#1a1a1a" stroke-width="0.3">9,48</text>
<line x1="196.60" y1="77.00" x2="196.60" y2="497.00" stroke="#262626" stroke-width="0.9"/>
<line x1="194.10" y1="77.50" x2="199.10" y2="77.50" stroke="#262626" stroke-width="1.0"/>
<line x1="195.40" y1="78.70" x2="197.80" y2="76.30" stroke="#262626" stroke-width="0.6"/>
<line x1="194.10" y1="158.30" x2="199.10" y2="158.30" stroke="#262626" stroke-width="1.0"/>
<line x1="195.40" y1="159.50" x2="197.80" y2="157.10" stroke="#262626" stroke-width="0.6"/>
<line x1="194.10" y1="344.30" x2="199.10" y2="344.30" stroke="#262626" stroke-width="1.0"/>
<line x1="195.40" y1="345.50" x2="197.80" y2="343.10" stroke="#262626" stroke-width="0.6"/>
<line x1="194.10" y1="409.50" x2="199.10" y2="409.50" stroke="#262626" stroke-width="1.0"/>
<line x1="195.40" y1="410.70" x2="197.80" y2="408.30" stroke="#262626" stroke-width="0.6"/>
<line x1="194.10" y1="497.00" x2="199.10" y2="497.00" stroke="#262626" stroke-width="1.0"/>
<line x1="195.40" y1="498.20" x2="197.80" y2="495.80" stroke="#262626" stroke-width="0.6"/>
<line x1="205.60" y1="158.00" x2="205.60" y2="345.00" stroke="#262626" stroke-width="0.9"/>
<line x1="214.40" y1="158.00" x2="214.40" y2="345.00" stroke="#262626" stroke-width="0.9"/>
<line x1="203.60" y1="158.30" x2="207.60" y2="158.30" stroke="#262626" stroke-width="1.0"/>
<line x1="204.40" y1="159.50" x2="206.80" y2="157.10" stroke="#262626" stroke-width="0.6"/>
<line x1="203.60" y1="167.00" x2="207.60" y2="167.00" stroke="#262626" stroke-width="1.0"/>
<line x1="204.40" y1="168.20" x2="206.80" y2="165.80" stroke="#262626" stroke-width="0.6"/>
<line x1="203.60" y1="336.50" x2="207.60" y2="336.50" stroke="#262626" stroke-width="1.0"/>
<line x1="204.40" y1="337.70" x2="206.80" y2="335.30" stroke="#262626" stroke-width="0.6"/>
<line x1="203.60" y1="344.30" x2="207.60" y2="344.30" stroke="#262626" stroke-width="1.0"/>
<line x1="204.40" y1="345.50" x2="206.80" y2="343.10" stroke="#262626" stroke-width="0.6"/>
<line x1="212.40" y1="158.30" x2="216.40" y2="158.30" stroke="#262626" stroke-width="1.0"/>
<line x1="213.20" y1="159.50" x2="215.60" y2="157.10" stroke="#262626" stroke-width="0.6"/>
<line x1="212.40" y1="167.00" x2="216.40" y2="167.00" stroke="#262626" stroke-width="1.0"/>
<line x1="213.20" y1="168.20" x2="215.60" y2="165.80" stroke="#262626" stroke-width="0.6"/>
<line x1="212.40" y1="336.50" x2="216.40" y2="336.50" stroke="#262626" stroke-width="1.0"/>
<line x1="213.20" y1="337.70" x2="215.60" y2="335.30" stroke="#262626" stroke-width="0.6"/>
<line x1="212.40" y1="344.30" x2="216.40" y2="344.30" stroke="#262626" stroke-width="1.0"/>
<line x1="213.20" y1="345.50" x2="215.60" y2="343.10" stroke="#262626" stroke-width="0.6"/>
<line x1="203.60" y1="204.40" x2="207.60" y2="204.40" stroke="#262626" stroke-width="1.0"/>
<line x1="204.40" y1="205.60" x2="206.80" y2="203.20" stroke="#262626" stroke-width="0.6"/>
<line x1="212.40" y1="270.00" x2="216.40" y2="270.00" stroke="#262626" stroke-width="1.0"/>
<line x1="213.20" y1="271.20" x2="215.60" y2="268.80" stroke="#262626" stroke-width="0.6"/>
<line x1="212.40" y1="272.50" x2="216.40" y2="272.50" stroke="#262626" stroke-width="1.0"/>
<line x1="213.20" y1="273.70" x2="215.60" y2="271.30" stroke="#262626" stroke-width="0.6"/>
<text transform="translate(195.22 117.70) rotate(-90) scale(0.76 1)" font-size="7" text-anchor="middle" font-weight="normal" fill="#1a1a1a" stroke="#1a1a1a" stroke-width="0.3">3,26</text>
<text transform="translate(195.22 420.00) rotate(-90) scale(0.76 1)" font-size="7" text-anchor="middle" font-weight="normal" fill="#1a1a1a" stroke="#1a1a1a" stroke-width="0.3">3,82</text>
<text transform="translate(204.02 185.00) rotate(-90) scale(0.76 1)" font-size="7" text-anchor="middle" font-weight="normal" fill="#1a1a1a" stroke="#1a1a1a" stroke-width="0.3">1,50</text>
<text transform="translate(213.02 216.00) rotate(-90) scale(0.76 1)" font-size="7" text-anchor="middle" font-weight="normal" fill="#1a1a1a" stroke="#1a1a1a" stroke-width="0.3">4,14</text>
<text transform="translate(195.22 257.00) rotate(-90) scale(0.76 1)" font-size="7" text-anchor="middle" font-weight="normal" fill="#1a1a1a" stroke="#1a1a1a" stroke-width="0.3">7,56</text>
<text transform="translate(204.02 272.00) rotate(-90) scale(0.76 1)" font-size="7" text-anchor="middle" font-weight="normal" fill="#1a1a1a" stroke="#1a1a1a" stroke-width="0.3">5,37</text>
<text transform="translate(213.02 305.00) rotate(-90) scale(0.76 1)" font-size="7" text-anchor="middle" font-weight="normal" fill="#1a1a1a" stroke="#1a1a1a" stroke-width="0.3">2,80</text>
<text transform="translate(213.02 162.50) rotate(-90) scale(0.76 1)" font-size="7" text-anchor="middle" font-weight="normal" fill="#1a1a1a" stroke="#1a1a1a" stroke-width="0.3">36</text>
<text transform="translate(204.02 162.50) rotate(-90) scale(0.76 1)" font-size="7" text-anchor="middle" font-weight="normal" fill="#1a1a1a" stroke="#1a1a1a" stroke-width="0.3">36</text>
<text transform="translate(204.02 340.50) rotate(-90) scale(0.76 1)" font-size="7" text-anchor="middle" font-weight="normal" fill="#1a1a1a" stroke="#1a1a1a" stroke-width="0.3">36</text>
<text transform="translate(213.02 340.50) rotate(-90) scale(0.76 1)" font-size="7" text-anchor="middle" font-weight="normal" fill="#1a1a1a" stroke="#1a1a1a" stroke-width="0.3">36</text>
<text transform="translate(213.02 271.00) rotate(-90) scale(0.76 1)" font-size="7" text-anchor="middle" font-weight="normal" fill="#1a1a1a" stroke="#1a1a1a" stroke-width="0.3">10</text>
<line x1="993.60" y1="152.00" x2="993.60" y2="346.50" stroke="#262626" stroke-width="0.9"/>
<line x1="991.60" y1="155.30" x2="995.60" y2="155.30" stroke="#262626" stroke-width="1.0"/>
<line x1="992.40" y1="156.50" x2="994.80" y2="154.10" stroke="#262626" stroke-width="0.6"/>
<line x1="991.60" y1="164.20" x2="995.60" y2="164.20" stroke="#262626" stroke-width="1.0"/>
<line x1="992.40" y1="165.40" x2="994.80" y2="163.00" stroke="#262626" stroke-width="0.6"/>
<line x1="991.60" y1="336.00" x2="995.60" y2="336.00" stroke="#262626" stroke-width="1.0"/>
<line x1="992.40" y1="337.20" x2="994.80" y2="334.80" stroke="#262626" stroke-width="0.6"/>
<line x1="991.60" y1="345.70" x2="995.60" y2="345.70" stroke="#262626" stroke-width="1.0"/>
<line x1="992.40" y1="346.90" x2="994.80" y2="344.50" stroke="#262626" stroke-width="0.6"/>
<line x1="1002.30" y1="152.00" x2="1002.30" y2="346.50" stroke="#262626" stroke-width="0.9"/>
<line x1="1000.30" y1="155.30" x2="1004.30" y2="155.30" stroke="#262626" stroke-width="1.0"/>
<line x1="1001.10" y1="156.50" x2="1003.50" y2="154.10" stroke="#262626" stroke-width="0.6"/>
<line x1="1000.30" y1="164.20" x2="1004.30" y2="164.20" stroke="#262626" stroke-width="1.0"/>
<line x1="1001.10" y1="165.40" x2="1003.50" y2="163.00" stroke="#262626" stroke-width="0.6"/>
<line x1="1000.30" y1="336.00" x2="1004.30" y2="336.00" stroke="#262626" stroke-width="1.0"/>
<line x1="1001.10" y1="337.20" x2="1003.50" y2="334.80" stroke="#262626" stroke-width="0.6"/>
<line x1="1000.30" y1="345.70" x2="1004.30" y2="345.70" stroke="#262626" stroke-width="1.0"/>
<line x1="1001.10" y1="346.90" x2="1003.50" y2="344.50" stroke="#262626" stroke-width="0.6"/>
<line x1="1010.90" y1="152.00" x2="1010.90" y2="346.50" stroke="#262626" stroke-width="0.9"/>
<line x1="1008.90" y1="155.30" x2="1012.90" y2="155.30" stroke="#262626" stroke-width="1.0"/>
<line x1="1009.70" y1="156.50" x2="1012.10" y2="154.10" stroke="#262626" stroke-width="0.6"/>
<line x1="1008.90" y1="164.20" x2="1012.90" y2="164.20" stroke="#262626" stroke-width="1.0"/>
<line x1="1009.70" y1="165.40" x2="1012.10" y2="163.00" stroke="#262626" stroke-width="0.6"/>
<line x1="1008.90" y1="336.00" x2="1012.90" y2="336.00" stroke="#262626" stroke-width="1.0"/>
<line x1="1009.70" y1="337.20" x2="1012.10" y2="334.80" stroke="#262626" stroke-width="0.6"/>
<line x1="1008.90" y1="345.70" x2="1012.90" y2="345.70" stroke="#262626" stroke-width="1.0"/>
<line x1="1009.70" y1="346.90" x2="1012.10" y2="344.50" stroke="#262626" stroke-width="0.6"/>
<line x1="1019.70" y1="152.00" x2="1019.70" y2="346.50" stroke="#262626" stroke-width="0.9"/>
<line x1="1017.70" y1="155.30" x2="1021.70" y2="155.30" stroke="#262626" stroke-width="1.0"/>
<line x1="1018.50" y1="156.50" x2="1020.90" y2="154.10" stroke="#262626" stroke-width="0.6"/>
<line x1="1017.70" y1="164.20" x2="1021.70" y2="164.20" stroke="#262626" stroke-width="1.0"/>
<line x1="1018.50" y1="165.40" x2="1020.90" y2="163.00" stroke="#262626" stroke-width="0.6"/>
<line x1="1017.70" y1="336.00" x2="1021.70" y2="336.00" stroke="#262626" stroke-width="1.0"/>
<line x1="1018.50" y1="337.20" x2="1020.90" y2="334.80" stroke="#262626" stroke-width="0.6"/>
<line x1="1017.70" y1="345.70" x2="1021.70" y2="345.70" stroke="#262626" stroke-width="1.0"/>
<line x1="1018.50" y1="346.90" x2="1020.90" y2="344.50" stroke="#262626" stroke-width="0.6"/>
<line x1="1028.40" y1="77.00" x2="1028.40" y2="347.00" stroke="#262626" stroke-width="0.9"/>
<line x1="1025.90" y1="79.00" x2="1030.90" y2="79.00" stroke="#262626" stroke-width="1.0"/>
<line x1="1027.20" y1="80.20" x2="1029.60" y2="77.80" stroke="#262626" stroke-width="0.6"/>
<line x1="1025.90" y1="155.30" x2="1030.90" y2="155.30" stroke="#262626" stroke-width="1.0"/>
<line x1="1027.20" y1="156.50" x2="1029.60" y2="154.10" stroke="#262626" stroke-width="0.6"/>
<line x1="1025.90" y1="321.20" x2="1030.90" y2="321.20" stroke="#262626" stroke-width="1.0"/>
<line x1="1027.20" y1="322.40" x2="1029.60" y2="320.00" stroke="#262626" stroke-width="0.6"/>
<line x1="1025.90" y1="345.70" x2="1030.90" y2="345.70" stroke="#262626" stroke-width="1.0"/>
<line x1="1027.20" y1="346.90" x2="1029.60" y2="344.50" stroke="#262626" stroke-width="0.6"/>
<text transform="translate(992.42 160.00) rotate(-90) scale(0.76 1)" font-size="7" text-anchor="middle" font-weight="normal" fill="#1a1a1a" stroke="#1a1a1a" stroke-width="0.3">36</text>
<text transform="translate(1000.62 160.00) rotate(-90) scale(0.76 1)" font-size="7" text-anchor="middle" font-weight="normal" fill="#1a1a1a" stroke="#1a1a1a" stroke-width="0.3">36</text>
<text transform="translate(1009.02 160.00) rotate(-90) scale(0.76 1)" font-size="7" text-anchor="middle" font-weight="normal" fill="#1a1a1a" stroke="#1a1a1a" stroke-width="0.3">36</text>
<text transform="translate(1017.42 160.00) rotate(-90) scale(0.76 1)" font-size="7" text-anchor="middle" font-weight="normal" fill="#1a1a1a" stroke="#1a1a1a" stroke-width="0.3">36</text>
<text transform="translate(1000.62 192.30) rotate(-90) scale(0.76 1)" font-size="7" text-anchor="middle" font-weight="normal" fill="#1a1a1a" stroke="#1a1a1a" stroke-width="0.3">2,28</text>
<text transform="translate(992.42 207.00) rotate(-90) scale(0.76 1)" font-size="7" text-anchor="middle" font-weight="normal" fill="#1a1a1a" stroke="#1a1a1a" stroke-width="0.3">3,47</text>
<text transform="translate(1009.02 207.00) rotate(-90) scale(0.76 1)" font-size="7" text-anchor="middle" font-weight="normal" fill="#1a1a1a" stroke="#1a1a1a" stroke-width="0.3">3,46</text>
<text transform="translate(1017.42 207.00) rotate(-90) scale(0.76 1)" font-size="7" text-anchor="middle" font-weight="normal" fill="#1a1a1a" stroke="#1a1a1a" stroke-width="0.3">3,46</text>
<text transform="translate(1000.52 221.50) rotate(-90) scale(0.76 1)" font-size="7" text-anchor="middle" font-weight="normal" fill="#1a1a1a" stroke="#1a1a1a" stroke-width="0.3">10</text>
<text transform="translate(1027.32 238.70) rotate(-90) scale(0.76 1)" font-size="7" text-anchor="middle" font-weight="normal" fill="#1a1a1a" stroke="#1a1a1a" stroke-width="0.3">6,07</text>
<text transform="translate(995.52 252.00) rotate(-90) scale(0.76 1)" font-size="7" text-anchor="middle" font-weight="normal" fill="#1a1a1a" stroke="#1a1a1a" stroke-width="0.3">10</text>
<text transform="translate(1013.42 252.00) rotate(-90) scale(0.76 1)" font-size="7" text-anchor="middle" font-weight="normal" fill="#1a1a1a" stroke="#1a1a1a" stroke-width="0.3">10</text>
<text transform="translate(1002.52 264.00) rotate(-90) scale(0.76 1)" font-size="7" text-anchor="middle" font-weight="normal" fill="#1a1a1a" stroke="#1a1a1a" stroke-width="0.3">3,41</text>
<text transform="translate(992.82 281.00) rotate(-90) scale(0.76 1)" font-size="7" text-anchor="middle" font-weight="normal" fill="#1a1a1a" stroke="#1a1a1a" stroke-width="0.3">2,30</text>
<text transform="translate(1010.02 295.00) rotate(-90) scale(0.76 1)" font-size="7" text-anchor="middle" font-weight="normal" fill="#1a1a1a" stroke="#1a1a1a" stroke-width="0.3">3,42</text>
<text transform="translate(1018.82 301.00) rotate(-90) scale(0.76 1)" font-size="7" text-anchor="middle" font-weight="normal" fill="#1a1a1a" stroke="#1a1a1a" stroke-width="0.3">3,52</text>
<text transform="translate(992.52 308.00) rotate(-90) scale(0.76 1)" font-size="7" text-anchor="middle" font-weight="normal" fill="#1a1a1a" stroke="#1a1a1a" stroke-width="0.3">10</text>
<text transform="translate(1000.52 308.00) rotate(-90) scale(0.76 1)" font-size="7" text-anchor="middle" font-weight="normal" fill="#1a1a1a" stroke="#1a1a1a" stroke-width="0.3">10</text>
<text transform="translate(992.52 323.00) rotate(-90) scale(0.76 1)" font-size="7" text-anchor="middle" font-weight="normal" fill="#1a1a1a" stroke="#1a1a1a" stroke-width="0.3">1,10</text>
<text transform="translate(1001.52 324.00) rotate(-90) scale(0.76 1)" font-size="7" text-anchor="middle" font-weight="normal" fill="#1a1a1a" stroke="#1a1a1a" stroke-width="0.3">1,18</text>
<text transform="translate(1027.02 331.70) rotate(-90) scale(0.76 1)" font-size="7" text-anchor="middle" font-weight="normal" fill="#1a1a1a" stroke="#1a1a1a" stroke-width="0.3">1,02</text>
<text transform="translate(992.52 342.00) rotate(-90) scale(0.76 1)" font-size="7" text-anchor="middle" font-weight="normal" fill="#1a1a1a" stroke="#1a1a1a" stroke-width="0.3">36</text>
<text transform="translate(1000.52 342.00) rotate(-90) scale(0.76 1)" font-size="7" text-anchor="middle" font-weight="normal" fill="#1a1a1a" stroke="#1a1a1a" stroke-width="0.3">36</text>
<text transform="translate(1009.02 342.00) rotate(-90) scale(0.76 1)" font-size="7" text-anchor="middle" font-weight="normal" fill="#1a1a1a" stroke="#1a1a1a" stroke-width="0.3">36</text>
<text transform="translate(1027.32 117.00) rotate(-90) scale(0.76 1)" font-size="7" text-anchor="middle" font-weight="normal" fill="#1a1a1a" stroke="#1a1a1a" stroke-width="0.3">3,05</text>
<line x1="991.85" y1="223.30" x2="995.35" y2="223.30" stroke="#262626" stroke-width="1.0"/>
<line x1="992.40" y1="224.50" x2="994.80" y2="222.10" stroke="#262626" stroke-width="0.6"/>
<line x1="1000.55" y1="223.30" x2="1004.05" y2="223.30" stroke="#262626" stroke-width="1.0"/>
<line x1="1001.10" y1="224.50" x2="1003.50" y2="222.10" stroke="#262626" stroke-width="0.6"/>
<line x1="1009.15" y1="223.30" x2="1012.65" y2="223.30" stroke="#262626" stroke-width="1.0"/>
<line x1="1009.70" y1="224.50" x2="1012.10" y2="222.10" stroke="#262626" stroke-width="0.6"/>
<line x1="991.85" y1="250.00" x2="995.35" y2="250.00" stroke="#262626" stroke-width="1.0"/>
<line x1="992.40" y1="251.20" x2="994.80" y2="248.80" stroke="#262626" stroke-width="0.6"/>
<line x1="1000.55" y1="250.00" x2="1004.05" y2="250.00" stroke="#262626" stroke-width="1.0"/>
<line x1="1001.10" y1="251.20" x2="1003.50" y2="248.80" stroke="#262626" stroke-width="0.6"/>
<line x1="1009.15" y1="250.00" x2="1012.65" y2="250.00" stroke="#262626" stroke-width="1.0"/>
<line x1="1009.70" y1="251.20" x2="1012.10" y2="248.80" stroke="#262626" stroke-width="0.6"/>
<line x1="991.85" y1="258.50" x2="995.35" y2="258.50" stroke="#262626" stroke-width="1.0"/>
<line x1="992.40" y1="259.70" x2="994.80" y2="257.30" stroke="#262626" stroke-width="0.6"/>
<line x1="1000.55" y1="258.50" x2="1004.05" y2="258.50" stroke="#262626" stroke-width="1.0"/>
<line x1="1001.10" y1="259.70" x2="1003.50" y2="257.30" stroke="#262626" stroke-width="0.6"/>
<line x1="1009.15" y1="258.50" x2="1012.65" y2="258.50" stroke="#262626" stroke-width="1.0"/>
<line x1="1009.70" y1="259.70" x2="1012.10" y2="257.30" stroke="#262626" stroke-width="0.6"/>
<line x1="991.85" y1="309.00" x2="995.35" y2="309.00" stroke="#262626" stroke-width="1.0"/>
<line x1="992.40" y1="310.20" x2="994.80" y2="307.80" stroke="#262626" stroke-width="0.6"/>
<line x1="1000.55" y1="309.00" x2="1004.05" y2="309.00" stroke="#262626" stroke-width="1.0"/>
<line x1="1001.10" y1="310.20" x2="1003.50" y2="307.80" stroke="#262626" stroke-width="0.6"/>
<line x1="1009.15" y1="309.00" x2="1012.65" y2="309.00" stroke="#262626" stroke-width="1.0"/>
<line x1="1009.70" y1="310.20" x2="1012.10" y2="307.80" stroke="#262626" stroke-width="0.6"/>
<line x1="991.85" y1="321.20" x2="995.35" y2="321.20" stroke="#262626" stroke-width="1.0"/>
<line x1="992.40" y1="322.40" x2="994.80" y2="320.00" stroke="#262626" stroke-width="0.6"/>
<line x1="1000.55" y1="321.20" x2="1004.05" y2="321.20" stroke="#262626" stroke-width="1.0"/>
<line x1="1001.10" y1="322.40" x2="1003.50" y2="320.00" stroke="#262626" stroke-width="0.6"/>
<line x1="1009.15" y1="321.20" x2="1012.65" y2="321.20" stroke="#262626" stroke-width="1.0"/>
<line x1="1009.70" y1="322.40" x2="1012.10" y2="320.00" stroke="#262626" stroke-width="0.6"/>
<line x1="985.00" y1="321.20" x2="1040.00" y2="321.20" stroke="#333" stroke-width="0.8" stroke-dasharray="10 2 2 2"/>
<defs><pattern id="hx" patternUnits="userSpaceOnUse" width="3.6" height="3.6">
<rect width="3.6" height="3.6" fill="#fff"/><path d="M0,3.6 L3.6,0 M-0.9,0.9 L0.9,-0.9 M2.7,4.5 L4.5,2.7" stroke="#8e8e8e" stroke-width="0.9"/><path d="M0,0 L3.6,3.6" stroke="#d0d0d0" stroke-width="0.6"/></pattern></defs>
<polygon points="230.00,158.30 589.00,158.30 589.00,155.30 985.60,155.30 985.60,258.30 905.40,258.30 905.40,345.40 217.60,345.40 217.60,215.00 230.00,158.30" fill="#fff" stroke="#444" stroke-width="1.0"/>
<polygon points="232.60,161.30 591.30,161.30 591.30,158.30 982.70,158.30 982.70,256.00 903.40,256.00 903.40,343.40 220.40,343.40 220.40,215.20 232.60,161.30" fill="url(#h)" stroke="#1e1e1e" stroke-width="1.1"/>
<polygon points="237.10,167.40 597.70,167.40 597.70,164.30 976.30,164.30 976.30,249.30 896.20,249.30 896.20,336.40 226.30,336.40 226.30,215.00 237.10,167.40" fill="#fff" stroke="#1e1e1e" stroke-width="1.1"/>
<rect x="508.30" y="167.40" width="10.20" height="169.00" fill="url(#hx)" stroke="#262626" stroke-width="0"/>
<line x1="508.30" y1="167.40" x2="508.30" y2="336.40" stroke="#8a8a8a" stroke-width="0.9"/>
<line x1="513.90" y1="167.40" x2="513.90" y2="336.40" stroke="#222" stroke-width="1.1"/>
<line x1="518.50" y1="167.40" x2="518.50" y2="336.40" stroke="#222" stroke-width="1.0"/>
<rect x="745.30" y="164.30" width="10.40" height="172.10" fill="url(#hx)" stroke="#262626" stroke-width="0"/>
<line x1="745.30" y1="164.30" x2="745.30" y2="336.40" stroke="#555" stroke-width="0.9"/>
<line x1="749.30" y1="164.30" x2="749.30" y2="336.40" stroke="#222" stroke-width="1.1"/>
<line x1="755.70" y1="164.30" x2="755.70" y2="336.40" stroke="#8a8a8a" stroke-width="1.0"/>
<rect x="343.00" y="167.30" width="3.80" height="103.20" fill="#f7f7f7" stroke="#3a3a3a" stroke-width="0.85"/>
<rect x="226.50" y="270.50" width="281.80" height="2.60" fill="#f7f7f7" stroke="#3a3a3a" stroke-width="0.85"/>
<rect x="311.30" y="273.00" width="2.50" height="63.50" fill="#f7f7f7" stroke="#3a3a3a" stroke-width="0.85"/>
<rect x="397.60" y="273.00" width="3.00" height="63.50" fill="#f7f7f7" stroke="#3a3a3a" stroke-width="0.85"/>
<rect x="320.00" y="270.20" width="22.80" height="3.20" fill="#fff" stroke="#262626" stroke-width="0"/>
<line x1="320.00" y1="270.50" x2="342.80" y2="270.50" stroke="#aaa" stroke-width="0.6" stroke-dasharray="1.5 1.5"/>
<line x1="320.00" y1="273.10" x2="342.80" y2="273.10" stroke="#aaa" stroke-width="0.6" stroke-dasharray="1.5 1.5"/>
<rect x="347.00" y="270.20" width="23.00" height="3.20" fill="#fff" stroke="#262626" stroke-width="0"/>
<line x1="347.00" y1="270.50" x2="370.00" y2="270.50" stroke="#aaa" stroke-width="0.6" stroke-dasharray="1.5 1.5"/>
<line x1="347.00" y1="273.10" x2="370.00" y2="273.10" stroke="#aaa" stroke-width="0.6" stroke-dasharray="1.5 1.5"/>
<rect x="311.00" y="276.00" width="3.10" height="22.00" fill="#fff" stroke="#262626" stroke-width="0"/>
<line x1="311.30" y1="276.00" x2="311.30" y2="298.00" stroke="#aaa" stroke-width="0.6" stroke-dasharray="1.5 1.5"/>
<line x1="313.80" y1="276.00" x2="313.80" y2="298.00" stroke="#aaa" stroke-width="0.6" stroke-dasharray="1.5 1.5"/>
<rect x="397.30" y="284.00" width="3.60" height="22.00" fill="#fff" stroke="#262626" stroke-width="0"/>
<line x1="397.60" y1="284.00" x2="397.60" y2="306.00" stroke="#aaa" stroke-width="0.6" stroke-dasharray="1.5 1.5"/>
<line x1="400.60" y1="284.00" x2="400.60" y2="306.00" stroke="#aaa" stroke-width="0.6" stroke-dasharray="1.5 1.5"/>
<path d="M320.30,270.50 A22.5,22.5 0 0 1 342.80,248.00" fill="none" stroke="#8a8a8a" stroke-width="0.75"/>
<path d="M347.00,248.00 A22.5,22.5 0 0 1 369.50,270.50" fill="none" stroke="#8a8a8a" stroke-width="0.75"/>
<line x1="342.80" y1="248.00" x2="342.80" y2="270.50" stroke="#555" stroke-width="0.7"/>
<line x1="347.00" y1="248.00" x2="347.00" y2="270.50" stroke="#555" stroke-width="0.7"/>
<path d="M311.30,298.00 A22,22 0 0 1 289.30,276.00" fill="none" stroke="#8a8a8a" stroke-width="0.75"/>
<line x1="289.30" y1="276.00" x2="311.30" y2="276.00" stroke="#444" stroke-width="0.8"/>
<path d="M400.60,284.00 A22,22 0 0 1 422.60,306.00" fill="none" stroke="#8a8a8a" stroke-width="0.75"/>
<line x1="400.60" y1="306.00" x2="422.60" y2="306.00" stroke="#444" stroke-width="0.8"/>
<rect x="593.60" y="164.50" width="2.70" height="86.50" fill="#f7f7f7" stroke="#3a3a3a" stroke-width="0.85"/>
<rect x="518.80" y="277.00" width="74.80" height="3.20" fill="#f7f7f7" stroke="#3a3a3a" stroke-width="0.85"/>
<rect x="593.60" y="251.00" width="2.70" height="86.00" fill="#f7f7f7" stroke="#3a3a3a" stroke-width="0.85"/>
<rect x="676.90" y="260.80" width="62.60" height="3.60" fill="#f7f7f7" stroke="#3a3a3a" stroke-width="0.85"/>
<rect x="596.30" y="250.20" width="80.60" height="59.20" fill="none" stroke="#222" stroke-width="1.0"/>
<line x1="596.30" y1="252.70" x2="674.30" y2="252.70" stroke="#444" stroke-width="0.7"/>
<line x1="674.30" y1="252.70" x2="674.30" y2="306.80" stroke="#444" stroke-width="0.7"/>
<line x1="596.30" y1="306.80" x2="674.30" y2="306.80" stroke="#444" stroke-width="0.7"/>
<line x1="625.00" y1="252.70" x2="625.00" y2="306.80" stroke="#333" stroke-width="0.9"/>
<rect x="599.00" y="249.90" width="21.50" height="3.10" fill="#fff" stroke="#262626" stroke-width="0"/>
<line x1="599.00" y1="250.20" x2="620.50" y2="250.20" stroke="#aaa" stroke-width="0.6" stroke-dasharray="1.5 1.5"/>
<line x1="599.00" y1="252.70" x2="620.50" y2="252.70" stroke="#aaa" stroke-width="0.6" stroke-dasharray="1.5 1.5"/>
<rect x="593.30" y="253.00" width="3.30" height="50.00" fill="#fff" stroke="#262626" stroke-width="0"/>
<line x1="593.60" y1="253.00" x2="593.60" y2="303.00" stroke="#aaa" stroke-width="0.6" stroke-dasharray="1.5 1.5"/>
<line x1="596.30" y1="253.00" x2="596.30" y2="303.00" stroke="#aaa" stroke-width="0.6" stroke-dasharray="1.5 1.5"/>
<rect x="600.50" y="306.50" width="21.00" height="3.10" fill="#fff" stroke="#262626" stroke-width="0"/>
<line x1="600.50" y1="306.80" x2="621.50" y2="306.80" stroke="#aaa" stroke-width="0.6" stroke-dasharray="1.5 1.5"/>
<line x1="600.50" y1="309.30" x2="621.50" y2="309.30" stroke="#aaa" stroke-width="0.6" stroke-dasharray="1.5 1.5"/>
<path d="M599.00,229.50 A21.5,21.5 0 0 1 620.50,251.00" fill="none" stroke="#8a8a8a" stroke-width="0.75"/>
<line x1="599.00" y1="229.50" x2="599.00" y2="251.00" stroke="#444" stroke-width="0.8"/>
<path d="M572.00,274.00 A21.6,21.6 0 0 1 593.60,252.40" fill="none" stroke="#8a8a8a" stroke-width="0.75"/>
<line x1="572.00" y1="274.00" x2="593.60" y2="274.00" stroke="#444" stroke-width="0.8"/>
<path d="M593.60,304.10 A21.6,21.6 0 0 1 572.00,282.50" fill="none" stroke="#8a8a8a" stroke-width="0.75"/>
<line x1="572.00" y1="282.50" x2="593.60" y2="282.50" stroke="#444" stroke-width="0.8"/>
<path d="M621.50,309.30 A21.5,21.5 0 0 1 600.00,330.80" fill="none" stroke="#8a8a8a" stroke-width="0.75"/>
<line x1="600.00" y1="309.30" x2="600.00" y2="331.00" stroke="#444" stroke-width="0.8"/>
<line x1="649.30" y1="278.00" x2="649.30" y2="252.80" stroke="#b4b4b4" stroke-width="0.5"/>
<line x1="649.92" y1="278.10" x2="658.14" y2="252.80" stroke="#b4b4b4" stroke-width="0.5"/>
<line x1="650.48" y1="278.38" x2="669.06" y2="252.80" stroke="#b4b4b4" stroke-width="0.5"/>
<line x1="650.92" y1="278.82" x2="674.40" y2="261.76" stroke="#b4b4b4" stroke-width="0.5"/>
<line x1="651.20" y1="279.38" x2="674.40" y2="271.84" stroke="#b4b4b4" stroke-width="0.5"/>
<line x1="651.30" y1="280.00" x2="674.40" y2="280.00" stroke="#b4b4b4" stroke-width="0.5"/>
<line x1="651.20" y1="280.62" x2="674.40" y2="288.16" stroke="#b4b4b4" stroke-width="0.5"/>
<line x1="650.92" y1="281.18" x2="674.40" y2="298.24" stroke="#b4b4b4" stroke-width="0.5"/>
<line x1="650.48" y1="281.62" x2="669.06" y2="307.20" stroke="#b4b4b4" stroke-width="0.5"/>
<line x1="649.92" y1="281.90" x2="658.14" y2="307.20" stroke="#b4b4b4" stroke-width="0.5"/>
<line x1="649.30" y1="282.00" x2="649.30" y2="307.20" stroke="#b4b4b4" stroke-width="0.5"/>
<line x1="631.00" y1="253.00" x2="631.00" y2="278.00" stroke="#a8a8a8" stroke-width="0.5" stroke-dasharray="2 1.5"/>
<line x1="631.00" y1="282.00" x2="631.00" y2="307.00" stroke="#a8a8a8" stroke-width="0.5" stroke-dasharray="2 1.5"/>
<line x1="637.00" y1="253.00" x2="637.00" y2="278.00" stroke="#a8a8a8" stroke-width="0.5" stroke-dasharray="2 1.5"/>
<line x1="637.00" y1="282.00" x2="637.00" y2="307.00" stroke="#a8a8a8" stroke-width="0.5" stroke-dasharray="2 1.5"/>
<line x1="643.00" y1="253.00" x2="643.00" y2="278.00" stroke="#a8a8a8" stroke-width="0.5" stroke-dasharray="2 1.5"/>
<line x1="643.00" y1="282.00" x2="643.00" y2="307.00" stroke="#a8a8a8" stroke-width="0.5" stroke-dasharray="2 1.5"/>
<line x1="625.00" y1="264.50" x2="655.00" y2="264.50" stroke="#aaa" stroke-width="0.5" stroke-dasharray="2 1.5"/>
<line x1="625.00" y1="295.00" x2="645.00" y2="295.00" stroke="#999" stroke-width="0.5"/>
<rect x="625.90" y="278.40" width="23.40" height="3.80" fill="#f2f2f2" stroke="#2a2a2a" stroke-width="0.9"/>
<line x1="625.90" y1="282.20" x2="649.30" y2="282.20" stroke="#222" stroke-width="1.1"/>
<line x1="649.30" y1="280.00" x2="674.40" y2="280.00" stroke="#666" stroke-width="0.6" stroke-dasharray="2.5 1.5"/>
<rect x="832.60" y="164.50" width="3.20" height="144.00" fill="#f7f7f7" stroke="#3a3a3a" stroke-width="0.85"/>
<rect x="800.00" y="220.20" width="33.00" height="2.40" fill="#f7f7f7" stroke="#3a3a3a" stroke-width="0.85"/>
<rect x="800.00" y="222.60" width="2.40" height="28.50" fill="#f7f7f7" stroke="#3a3a3a" stroke-width="0.85"/>
<rect x="755.80" y="250.20" width="44.60" height="2.60" fill="#f7f7f7" stroke="#3a3a3a" stroke-width="0.85"/>
<rect x="755.80" y="307.80" width="80.00" height="2.60" fill="#f7f7f7" stroke="#3a3a3a" stroke-width="0.85"/>
<rect x="835.80" y="249.20" width="61.20" height="3.60" fill="#f7f7f7" stroke="#3a3a3a" stroke-width="0.85"/>
<rect x="806.00" y="219.90" width="22.00" height="3.00" fill="#fff" stroke="#262626" stroke-width="0"/>
<line x1="806.00" y1="220.20" x2="828.00" y2="220.20" stroke="#aaa" stroke-width="0.6" stroke-dasharray="1.5 1.5"/>
<line x1="806.00" y1="222.60" x2="828.00" y2="222.60" stroke="#aaa" stroke-width="0.6" stroke-dasharray="1.5 1.5"/>
<rect x="832.30" y="225.00" width="3.80" height="22.00" fill="#fff" stroke="#262626" stroke-width="0"/>
<line x1="832.60" y1="225.00" x2="832.60" y2="247.00" stroke="#aaa" stroke-width="0.6" stroke-dasharray="1.5 1.5"/>
<line x1="835.80" y1="225.00" x2="835.80" y2="247.00" stroke="#aaa" stroke-width="0.6" stroke-dasharray="1.5 1.5"/>
<rect x="832.30" y="256.00" width="3.80" height="21.00" fill="#fff" stroke="#262626" stroke-width="0"/>
<line x1="832.60" y1="256.00" x2="832.60" y2="277.00" stroke="#aaa" stroke-width="0.6" stroke-dasharray="1.5 1.5"/>
<line x1="835.80" y1="256.00" x2="835.80" y2="277.00" stroke="#aaa" stroke-width="0.6" stroke-dasharray="1.5 1.5"/>
<rect x="805.50" y="307.50" width="22.00" height="3.20" fill="#fff" stroke="#262626" stroke-width="0"/>
<line x1="805.50" y1="307.80" x2="827.50" y2="307.80" stroke="#aaa" stroke-width="0.6" stroke-dasharray="1.5 1.5"/>
<line x1="805.50" y1="310.40" x2="827.50" y2="310.40" stroke="#aaa" stroke-width="0.6" stroke-dasharray="1.5 1.5"/>
<path d="M806.00,199.00 A22,22 0 0 1 828.00,221.00" fill="none" stroke="#8a8a8a" stroke-width="0.75"/>
<line x1="806.00" y1="199.00" x2="806.00" y2="221.00" stroke="#444" stroke-width="0.8"/>
<path d="M835.80,225.00 A22,22 0 0 1 857.80,247.00" fill="none" stroke="#8a8a8a" stroke-width="0.75"/>
<path d="M857.80,255.00 A22,22 0 0 1 835.80,277.00" fill="none" stroke="#8a8a8a" stroke-width="0.75"/>
<path d="M827.50,332.40 A22,22 0 0 1 805.50,310.40" fill="none" stroke="#8a8a8a" stroke-width="0.75"/>
<line x1="827.50" y1="310.40" x2="827.50" y2="332.40" stroke="#444" stroke-width="0.8"/>
<line x1="780.30" y1="282.00" x2="780.30" y2="307.60" stroke="#b4b4b4" stroke-width="0.5"/>
<line x1="779.68" y1="281.90" x2="771.33" y2="307.60" stroke="#b4b4b4" stroke-width="0.5"/>
<line x1="779.12" y1="281.62" x2="760.25" y2="307.60" stroke="#b4b4b4" stroke-width="0.5"/>
<line x1="778.68" y1="281.18" x2="755.70" y2="297.87" stroke="#b4b4b4" stroke-width="0.5"/>
<line x1="778.40" y1="280.62" x2="755.70" y2="287.99" stroke="#b4b4b4" stroke-width="0.5"/>
<line x1="778.30" y1="280.00" x2="755.70" y2="280.00" stroke="#b4b4b4" stroke-width="0.5"/>
<line x1="778.40" y1="279.38" x2="755.70" y2="272.01" stroke="#b4b4b4" stroke-width="0.5"/>
<line x1="778.68" y1="278.82" x2="755.70" y2="262.13" stroke="#b4b4b4" stroke-width="0.5"/>
<line x1="779.12" y1="278.38" x2="760.54" y2="252.80" stroke="#b4b4b4" stroke-width="0.5"/>
<line x1="779.68" y1="278.10" x2="771.46" y2="252.80" stroke="#b4b4b4" stroke-width="0.5"/>
<line x1="780.30" y1="278.00" x2="780.30" y2="252.80" stroke="#b4b4b4" stroke-width="0.5"/>
<path d="M764.3,280 A16,16 0 0 1 780.3,264" fill="none" stroke="#a0a0a0" stroke-width="0.6"/>
<path d="M764.3,280 A16,16 0 0 0 780.3,296" fill="none" stroke="#b8b8b8" stroke-width="0.5"/>
<line x1="796.80" y1="252.80" x2="796.80" y2="307.60" stroke="#888" stroke-width="0.6" stroke-dasharray="2 1.5"/>
<line x1="802.20" y1="250.20" x2="802.20" y2="307.80" stroke="#444" stroke-width="0.9"/>
<line x1="755.70" y1="280.00" x2="780.30" y2="280.00" stroke="#444" stroke-width="0.7" stroke-dasharray="3 1.5"/>
<line x1="767.50" y1="273.00" x2="767.50" y2="286.00" stroke="#555" stroke-width="0.7"/>
<rect x="780.30" y="277.90" width="21.90" height="4.50" fill="#f2f2f2" stroke="#2a2a2a" stroke-width="0.9"/>
<line x1="780.30" y1="282.40" x2="802.20" y2="282.40" stroke="#222" stroke-width="1.1"/>
<polyline points="313.80,302.40 340.30,302.40 340.30,312.00 397.60,312.00" fill="none" stroke="#333" stroke-width="1.0"/>
<line x1="342.80" y1="302.40" x2="342.80" y2="312.00" stroke="#666" stroke-width="0.6"/>
<polyline points="325.90,302.40 325.90,324.40 397.60,324.40" fill="none" stroke="#555" stroke-width="0.7"/>
<line x1="348.50" y1="312.00" x2="348.50" y2="336.50" stroke="#333" stroke-width="1.0"/>
<line x1="354.50" y1="312.00" x2="354.50" y2="336.50" stroke="#666" stroke-width="0.6" stroke-dasharray="2 1.2"/>
<line x1="361.00" y1="312.00" x2="361.00" y2="336.50" stroke="#666" stroke-width="0.6" stroke-dasharray="2 1.2"/>
<line x1="367.30" y1="312.00" x2="367.30" y2="336.50" stroke="#666" stroke-width="0.6" stroke-dasharray="2 1.2"/>
<line x1="373.30" y1="312.00" x2="373.30" y2="336.50" stroke="#666" stroke-width="0.6" stroke-dasharray="2 1.2"/>
<line x1="380.60" y1="312.00" x2="380.60" y2="336.50" stroke="#666" stroke-width="0.6" stroke-dasharray="2 1.2"/>
<line x1="387.50" y1="312.00" x2="387.50" y2="336.50" stroke="#666" stroke-width="0.6" stroke-dasharray="2 1.2"/>
<line x1="393.40" y1="312.00" x2="393.40" y2="336.50" stroke="#666" stroke-width="0.6" stroke-dasharray="2 1.2"/>
<line x1="326.81" y1="324.82" x2="348.50" y2="334.94" stroke="#b4b4b4" stroke-width="0.5"/>
<line x1="326.61" y1="325.11" x2="337.90" y2="336.40" stroke="#b4b4b4" stroke-width="0.5"/>
<line x1="326.32" y1="325.31" x2="331.50" y2="336.40" stroke="#b4b4b4" stroke-width="0.5"/>
<line x1="325.99" y1="325.40" x2="326.95" y2="336.40" stroke="#b4b4b4" stroke-width="0.5"/>
<line x1="325.64" y1="325.37" x2="322.68" y2="336.40" stroke="#b4b4b4" stroke-width="0.5"/>
<line x1="325.33" y1="325.22" x2="317.50" y2="336.40" stroke="#b4b4b4" stroke-width="0.5"/>
<line x1="325.08" y1="324.97" x2="313.80" y2="332.87" stroke="#b4b4b4" stroke-width="0.5"/>
<line x1="324.93" y1="324.66" x2="313.80" y2="327.64" stroke="#b4b4b4" stroke-width="0.5"/>
<line x1="324.90" y1="324.31" x2="313.80" y2="323.34" stroke="#b4b4b4" stroke-width="0.5"/>
<line x1="324.99" y1="323.98" x2="313.80" y2="318.76" stroke="#b4b4b4" stroke-width="0.5"/>
<line x1="325.19" y1="323.69" x2="313.80" y2="312.30" stroke="#b4b4b4" stroke-width="0.5"/>
<line x1="325.48" y1="323.49" x2="315.64" y2="302.40" stroke="#b4b4b4" stroke-width="0.5"/>
<line x1="325.81" y1="323.40" x2="323.98" y2="302.40" stroke="#b4b4b4" stroke-width="0.5"/>
<line x1="325.90" y1="336.40" x2="325.90" y2="324.40" stroke="#b4b4b4" stroke-width="0.5"/>
<text transform="translate(339.80 324.50) scale(0.76 1)" font-size="5.6" text-anchor="middle" font-weight="normal" fill="#222" stroke="#222" stroke-width="0.2">15 Stg</text>
<text transform="translate(340.80 330.00) scale(0.76 1)" font-size="5.0" text-anchor="middle" font-weight="normal" fill="#333" stroke="#333" stroke-width="0.15">16,83/20</text>
<text transform="translate(637.60 294.50) scale(0.76 1)" font-size="5.6" text-anchor="middle" font-weight="normal" fill="#222" stroke="#222" stroke-width="0.2">15 Stg</text>
<text transform="translate(638.60 300.00) scale(0.76 1)" font-size="5.0" text-anchor="middle" font-weight="normal" fill="#333" stroke="#333" stroke-width="0.15">16,83/20</text>
<text transform="translate(788.30 294.50) scale(0.76 1)" font-size="5.6" text-anchor="middle" font-weight="normal" fill="#222" stroke="#222" stroke-width="0.2">15 Stg</text>
<text transform="translate(789.30 300.00) scale(0.76 1)" font-size="5.0" text-anchor="middle" font-weight="normal" fill="#333" stroke="#333" stroke-width="0.15">16,83/20</text>
<rect x="265.10" y="158.30" width="24.90" height="9.10" fill="#fff" stroke="#262626" stroke-width="0"/>
<line x1="265.10" y1="158.30" x2="265.10" y2="167.40" stroke="#333" stroke-width="0.8"/>
<line x1="290.00" y1="158.30" x2="290.00" y2="167.40" stroke="#333" stroke-width="0.8"/>
<line x1="265.10" y1="161.30" x2="290.00" y2="161.30" stroke="#333" stroke-width="1.0"/>
<line x1="265.10" y1="164.30" x2="290.00" y2="164.30" stroke="#9a9a9a" stroke-width="0.6"/>
<line x1="265.10" y1="167.40" x2="290.00" y2="167.40" stroke="#222" stroke-width="1.0"/>
<rect x="262.50" y="143.50" width="30.10" height="14.80" fill="#fff" stroke="#1e1e1e" stroke-width="1.15"/>
<polyline points="265.10,158.30 265.10,145.70 290.00,145.70 290.00,158.30" fill="none" stroke="#444" stroke-width="0.8"/>
<text transform="translate(268.10 153.90) scale(0.95 1)" font-size="6.8" text-anchor="start" font-weight="normal" fill="#222" stroke="#222" stroke-width="0.3">LS</text>
<rect x="391.60" y="158.30" width="22.70" height="9.10" fill="#fff" stroke="#262626" stroke-width="0"/>
<line x1="391.60" y1="158.30" x2="391.60" y2="167.40" stroke="#333" stroke-width="0.8"/>
<line x1="414.30" y1="158.30" x2="414.30" y2="167.40" stroke="#333" stroke-width="0.8"/>
<line x1="391.60" y1="161.30" x2="414.30" y2="161.30" stroke="#333" stroke-width="1.0"/>
<line x1="391.60" y1="164.30" x2="414.30" y2="164.30" stroke="#9a9a9a" stroke-width="0.6"/>
<line x1="391.60" y1="167.40" x2="414.30" y2="167.40" stroke="#222" stroke-width="1.0"/>
<rect x="389.00" y="143.50" width="27.90" height="14.80" fill="#fff" stroke="#1e1e1e" stroke-width="1.15"/>
<polyline points="391.60,158.30 391.60,145.70 414.30,145.70 414.30,158.30" fill="none" stroke="#444" stroke-width="0.8"/>
<text transform="translate(394.60 153.90) scale(0.95 1)" font-size="6.8" text-anchor="start" font-weight="normal" fill="#222" stroke="#222" stroke-width="0.3">LS</text>
<rect x="467.60" y="158.30" width="24.00" height="9.10" fill="#fff" stroke="#262626" stroke-width="0"/>
<line x1="467.60" y1="158.30" x2="467.60" y2="167.40" stroke="#333" stroke-width="0.8"/>
<line x1="491.60" y1="158.30" x2="491.60" y2="167.40" stroke="#333" stroke-width="0.8"/>
<line x1="467.60" y1="161.30" x2="491.60" y2="161.30" stroke="#333" stroke-width="1.0"/>
<line x1="467.60" y1="164.30" x2="491.60" y2="164.30" stroke="#9a9a9a" stroke-width="0.6"/>
<line x1="467.60" y1="167.40" x2="491.60" y2="167.40" stroke="#222" stroke-width="1.0"/>
<rect x="465.00" y="143.50" width="29.20" height="14.80" fill="#fff" stroke="#1e1e1e" stroke-width="1.15"/>
<polyline points="467.60,158.30 467.60,145.70 491.60,145.70 491.60,158.30" fill="none" stroke="#444" stroke-width="0.8"/>
<text transform="translate(470.60 153.90) scale(0.95 1)" font-size="6.8" text-anchor="start" font-weight="normal" fill="#222" stroke="#222" stroke-width="0.3">LS</text>
<rect x="536.60" y="158.30" width="24.20" height="9.10" fill="#fff" stroke="#262626" stroke-width="0"/>
<line x1="536.60" y1="158.30" x2="536.60" y2="167.40" stroke="#333" stroke-width="0.8"/>
<line x1="560.80" y1="158.30" x2="560.80" y2="167.40" stroke="#333" stroke-width="0.8"/>
<line x1="536.60" y1="161.30" x2="560.80" y2="161.30" stroke="#333" stroke-width="1.0"/>
<line x1="536.60" y1="164.30" x2="560.80" y2="164.30" stroke="#9a9a9a" stroke-width="0.6"/>
<line x1="536.60" y1="167.40" x2="560.80" y2="167.40" stroke="#222" stroke-width="1.0"/>
<rect x="534.00" y="143.50" width="29.40" height="14.80" fill="#fff" stroke="#1e1e1e" stroke-width="1.15"/>
<polyline points="536.60,158.30 536.60,145.70 560.80,145.70 560.80,158.30" fill="none" stroke="#444" stroke-width="0.8"/>
<text transform="translate(539.60 153.90) scale(0.95 1)" font-size="6.8" text-anchor="start" font-weight="normal" fill="#222" stroke="#222" stroke-width="0.3">LS</text>
<rect x="622.90" y="155.30" width="25.20" height="9.00" fill="#fff" stroke="#262626" stroke-width="0"/>
<line x1="622.90" y1="155.30" x2="622.90" y2="164.30" stroke="#333" stroke-width="0.8"/>
<line x1="648.10" y1="155.30" x2="648.10" y2="164.30" stroke="#333" stroke-width="0.8"/>
<line x1="622.90" y1="158.30" x2="648.10" y2="158.30" stroke="#333" stroke-width="1.0"/>
<line x1="622.90" y1="161.30" x2="648.10" y2="161.30" stroke="#9a9a9a" stroke-width="0.6"/>
<line x1="622.90" y1="164.30" x2="648.10" y2="164.30" stroke="#222" stroke-width="1.0"/>
<rect x="620.30" y="140.40" width="30.40" height="14.90" fill="#fff" stroke="#1e1e1e" stroke-width="1.15"/>
<polyline points="622.90,155.30 622.90,142.60 648.10,142.60 648.10,155.30" fill="none" stroke="#444" stroke-width="0.8"/>
<text transform="translate(625.90 150.80) scale(0.95 1)" font-size="6.8" text-anchor="start" font-weight="normal" fill="#222" stroke="#222" stroke-width="0.3">LS</text>
<rect x="700.90" y="155.30" width="24.90" height="9.00" fill="#fff" stroke="#262626" stroke-width="0"/>
<line x1="700.90" y1="155.30" x2="700.90" y2="164.30" stroke="#333" stroke-width="0.8"/>
<line x1="725.80" y1="155.30" x2="725.80" y2="164.30" stroke="#333" stroke-width="0.8"/>
<line x1="700.90" y1="158.30" x2="725.80" y2="158.30" stroke="#333" stroke-width="1.0"/>
<line x1="700.90" y1="161.30" x2="725.80" y2="161.30" stroke="#9a9a9a" stroke-width="0.6"/>
<line x1="700.90" y1="164.30" x2="725.80" y2="164.30" stroke="#222" stroke-width="1.0"/>
<rect x="698.30" y="140.40" width="30.10" height="14.90" fill="#fff" stroke="#1e1e1e" stroke-width="1.15"/>
<polyline points="700.90,155.30 700.90,142.60 725.80,142.60 725.80,155.30" fill="none" stroke="#444" stroke-width="0.8"/>
<text transform="translate(703.90 150.80) scale(0.95 1)" font-size="6.8" text-anchor="start" font-weight="normal" fill="#222" stroke="#222" stroke-width="0.3">LS</text>
<rect x="782.10" y="155.30" width="24.60" height="9.00" fill="#fff" stroke="#262626" stroke-width="0"/>
<line x1="782.10" y1="155.30" x2="782.10" y2="164.30" stroke="#333" stroke-width="0.8"/>
<line x1="806.70" y1="155.30" x2="806.70" y2="164.30" stroke="#333" stroke-width="0.8"/>
<line x1="782.10" y1="158.30" x2="806.70" y2="158.30" stroke="#333" stroke-width="1.0"/>
<line x1="782.10" y1="161.30" x2="806.70" y2="161.30" stroke="#9a9a9a" stroke-width="0.6"/>
<line x1="782.10" y1="164.30" x2="806.70" y2="164.30" stroke="#222" stroke-width="1.0"/>
<rect x="779.50" y="140.40" width="29.80" height="14.90" fill="#fff" stroke="#1e1e1e" stroke-width="1.15"/>
<polyline points="782.10,155.30 782.10,142.60 806.70,142.60 806.70,155.30" fill="none" stroke="#444" stroke-width="0.8"/>
<text transform="translate(785.10 150.80) scale(0.95 1)" font-size="6.8" text-anchor="start" font-weight="normal" fill="#222" stroke="#222" stroke-width="0.3">LS</text>
<rect x="857.90" y="155.30" width="24.70" height="9.00" fill="#fff" stroke="#262626" stroke-width="0"/>
<line x1="857.90" y1="155.30" x2="857.90" y2="164.30" stroke="#333" stroke-width="0.8"/>
<line x1="882.60" y1="155.30" x2="882.60" y2="164.30" stroke="#333" stroke-width="0.8"/>
<line x1="857.90" y1="158.30" x2="882.60" y2="158.30" stroke="#333" stroke-width="1.0"/>
<line x1="857.90" y1="161.30" x2="882.60" y2="161.30" stroke="#9a9a9a" stroke-width="0.6"/>
<line x1="857.90" y1="164.30" x2="882.60" y2="164.30" stroke="#222" stroke-width="1.0"/>
<rect x="855.30" y="140.40" width="29.90" height="14.90" fill="#fff" stroke="#1e1e1e" stroke-width="1.15"/>
<polyline points="857.90,155.30 857.90,142.60 882.60,142.60 882.60,155.30" fill="none" stroke="#444" stroke-width="0.8"/>
<text transform="translate(860.90 150.80) scale(0.95 1)" font-size="6.8" text-anchor="start" font-weight="normal" fill="#222" stroke="#222" stroke-width="0.3">LS</text>
<rect x="928.60" y="155.30" width="24.70" height="9.00" fill="#fff" stroke="#262626" stroke-width="0"/>
<line x1="928.60" y1="155.30" x2="928.60" y2="164.30" stroke="#333" stroke-width="0.8"/>
<line x1="953.30" y1="155.30" x2="953.30" y2="164.30" stroke="#333" stroke-width="0.8"/>
<line x1="928.60" y1="158.30" x2="953.30" y2="158.30" stroke="#333" stroke-width="1.0"/>
<line x1="928.60" y1="161.30" x2="953.30" y2="161.30" stroke="#9a9a9a" stroke-width="0.6"/>
<line x1="928.60" y1="164.30" x2="953.30" y2="164.30" stroke="#222" stroke-width="1.0"/>
<rect x="926.00" y="140.40" width="29.90" height="14.90" fill="#fff" stroke="#1e1e1e" stroke-width="1.15"/>
<polyline points="928.60,155.30 928.60,142.60 953.30,142.60 953.30,155.30" fill="none" stroke="#444" stroke-width="0.8"/>
<text transform="translate(931.60 150.80) scale(0.95 1)" font-size="6.8" text-anchor="start" font-weight="normal" fill="#222" stroke="#222" stroke-width="0.3">LS</text>
<rect x="260.40" y="336.40" width="24.20" height="9.00" fill="#fff" stroke="#262626" stroke-width="0"/>
<line x1="260.40" y1="336.40" x2="284.60" y2="336.40" stroke="#8a8a8a" stroke-width="0.7"/>
<line x1="260.40" y1="341.30" x2="284.60" y2="341.30" stroke="#222" stroke-width="1.0"/>
<rect x="257.60" y="345.40" width="29.80" height="15.90" fill="#fff" stroke="#6a6a6a" stroke-width="0.9" stroke-dasharray="2 0.8"/>
<polyline points="260.40,336.40 260.40,358.10 284.60,358.10 284.60,336.40" fill="none" stroke="#1e1e1e" stroke-width="1.1"/>
<line x1="257.60" y1="345.40" x2="287.40" y2="345.40" stroke="#2a2a2a" stroke-width="1.0"/>
<text transform="translate(266.60 352.70) scale(0.95 1)" font-size="6.8" text-anchor="start" font-weight="normal" fill="#222" stroke="#222" stroke-width="0.3">LS</text>
<rect x="467.10" y="336.40" width="25.10" height="9.00" fill="#fff" stroke="#262626" stroke-width="0"/>
<line x1="467.10" y1="336.40" x2="492.20" y2="336.40" stroke="#8a8a8a" stroke-width="0.7"/>
<line x1="467.10" y1="341.30" x2="492.20" y2="341.30" stroke="#222" stroke-width="1.0"/>
<rect x="464.30" y="345.40" width="30.70" height="15.90" fill="#fff" stroke="#6a6a6a" stroke-width="0.9" stroke-dasharray="2 0.8"/>
<polyline points="467.10,336.40 467.10,358.10 492.20,358.10 492.20,336.40" fill="none" stroke="#1e1e1e" stroke-width="1.1"/>
<line x1="464.30" y1="345.40" x2="495.00" y2="345.40" stroke="#2a2a2a" stroke-width="1.0"/>
<text transform="translate(469.50 356.00) scale(0.95 1)" font-size="6.8" text-anchor="start" font-weight="normal" fill="#222" stroke="#222" stroke-width="0.3">LS</text>
<rect x="536.50" y="336.40" width="24.00" height="9.00" fill="#fff" stroke="#262626" stroke-width="0"/>
<line x1="536.50" y1="336.40" x2="560.50" y2="336.40" stroke="#8a8a8a" stroke-width="0.7"/>
<line x1="536.50" y1="341.30" x2="560.50" y2="341.30" stroke="#222" stroke-width="1.0"/>
<rect x="533.70" y="345.40" width="29.60" height="15.90" fill="#fff" stroke="#6a6a6a" stroke-width="0.9" stroke-dasharray="2 0.8"/>
<polyline points="536.50,336.40 536.50,358.10 560.50,358.10 560.50,336.40" fill="none" stroke="#1e1e1e" stroke-width="1.1"/>
<line x1="533.70" y1="345.40" x2="563.30" y2="345.40" stroke="#2a2a2a" stroke-width="1.0"/>
<text transform="translate(538.90 356.00) scale(0.95 1)" font-size="6.8" text-anchor="start" font-weight="normal" fill="#222" stroke="#222" stroke-width="0.3">LS</text>
<rect x="702.10" y="336.40" width="23.40" height="9.00" fill="#fff" stroke="#262626" stroke-width="0"/>
<line x1="702.10" y1="336.40" x2="725.50" y2="336.40" stroke="#8a8a8a" stroke-width="0.7"/>
<line x1="702.10" y1="341.30" x2="725.50" y2="341.30" stroke="#222" stroke-width="1.0"/>
<rect x="699.30" y="345.40" width="29.00" height="15.90" fill="#fff" stroke="#6a6a6a" stroke-width="0.9" stroke-dasharray="2 0.8"/>
<polyline points="702.10,336.40 702.10,358.10 725.50,358.10 725.50,336.40" fill="none" stroke="#1e1e1e" stroke-width="1.1"/>
<line x1="699.30" y1="345.40" x2="728.30" y2="345.40" stroke="#2a2a2a" stroke-width="1.0"/>
<text transform="translate(704.50 356.00) scale(0.95 1)" font-size="6.8" text-anchor="start" font-weight="normal" fill="#222" stroke="#222" stroke-width="0.3">LS</text>
<rect x="858.10" y="336.40" width="24.80" height="9.00" fill="#fff" stroke="#262626" stroke-width="0"/>
<line x1="858.10" y1="336.40" x2="882.90" y2="336.40" stroke="#8a8a8a" stroke-width="0.7"/>
<line x1="858.10" y1="341.30" x2="882.90" y2="341.30" stroke="#222" stroke-width="1.0"/>
<rect x="855.30" y="345.40" width="30.40" height="15.90" fill="#fff" stroke="#6a6a6a" stroke-width="0.9" stroke-dasharray="2 0.8"/>
<polyline points="858.10,336.40 858.10,358.10 882.90,358.10 882.90,336.40" fill="none" stroke="#1e1e1e" stroke-width="1.1"/>
<line x1="855.30" y1="345.40" x2="885.70" y2="345.40" stroke="#2a2a2a" stroke-width="1.0"/>
<text transform="translate(860.50 356.00) scale(0.95 1)" font-size="6.8" text-anchor="start" font-weight="normal" fill="#222" stroke="#222" stroke-width="0.3">LS</text>
<text transform="translate(275.80 175.30)" font-size="6.7" text-anchor="middle" font-weight="normal" fill="#222" stroke="#222" stroke-width="0.3">BRH 1,10m</text>
<text transform="translate(406.00 175.30)" font-size="6.7" text-anchor="middle" font-weight="normal" fill="#222" stroke="#222" stroke-width="0.3">BRH 1,10m</text>
<text transform="translate(477.50 175.30)" font-size="6.7" text-anchor="middle" font-weight="normal" fill="#222" stroke="#222" stroke-width="0.3">BRH 1,10m</text>
<text transform="translate(546.70 175.30)" font-size="6.7" text-anchor="middle" font-weight="normal" fill="#222" stroke="#222" stroke-width="0.3">BRH 1,10m</text>
<text transform="translate(635.80 172.80)" font-size="6.7" text-anchor="middle" font-weight="normal" fill="#222" stroke="#222" stroke-width="0.3">BRH 1,10m</text>
<text transform="translate(713.30 172.80)" font-size="6.7" text-anchor="middle" font-weight="normal" fill="#222" stroke="#222" stroke-width="0.3">BRH 1,10m</text>
<text transform="translate(794.00 172.80)" font-size="6.7" text-anchor="middle" font-weight="normal" fill="#222" stroke="#222" stroke-width="0.3">BRH 1,10m</text>
<text transform="translate(870.70 172.80)" font-size="6.7" text-anchor="middle" font-weight="normal" fill="#222" stroke="#222" stroke-width="0.3">BRH 1,10m</text>
<text transform="translate(941.70 172.80)" font-size="6.7" text-anchor="middle" font-weight="normal" fill="#222" stroke="#222" stroke-width="0.3">BRH 1,10m</text>
<text transform="translate(270.70 333.30)" font-size="6.7" text-anchor="middle" font-weight="normal" fill="#222" stroke="#222" stroke-width="0.3">BRH 1,10m</text>
<text transform="translate(478.30 333.30)" font-size="6.7" text-anchor="middle" font-weight="normal" fill="#222" stroke="#222" stroke-width="0.3">BRH 1,10m</text>
<text transform="translate(550.80 333.30)" font-size="6.7" text-anchor="middle" font-weight="normal" fill="#222" stroke="#222" stroke-width="0.3">BRH 1,10m</text>
<text transform="translate(715.60 333.30)" font-size="6.7" text-anchor="middle" font-weight="normal" fill="#222" stroke="#222" stroke-width="0.3">BRH 1,10m</text>
<text transform="translate(871.00 333.30)" font-size="6.7" text-anchor="middle" font-weight="normal" fill="#222" stroke="#222" stroke-width="0.3">BRH 1,10m</text>
<text transform="translate(253.30 213.30)" font-size="6.7" text-anchor="start" font-weight="normal" fill="#222" stroke="#222" stroke-width="0.3">Fitnes</text>
<text transform="translate(253.30 221.50)" font-size="6.7" text-anchor="start" font-weight="normal" fill="#222" stroke="#222" stroke-width="0.3">19,12 m<tspan dy="-2.8" font-size="4">2</tspan></text>
<text transform="translate(445.00 213.30)" font-size="6.7" text-anchor="start" font-weight="normal" fill="#222" stroke="#222" stroke-width="0.3">Hobby</text>
<text transform="translate(445.00 221.50)" font-size="6.7" text-anchor="start" font-weight="normal" fill="#222" stroke="#222" stroke-width="0.3">27,13 m<tspan dy="-2.8" font-size="4">2</tspan></text>
<text transform="translate(255.80 297.50)" font-size="6.7" text-anchor="start" font-weight="normal" fill="#222" stroke="#222" stroke-width="0.3">Keller</text>
<text transform="translate(255.80 305.70)" font-size="6.7" text-anchor="start" font-weight="normal" fill="#222" stroke="#222" stroke-width="0.3">8,88 m<tspan dy="-2.8" font-size="4">2</tspan></text>
<text transform="translate(363.00 294.00)" font-size="6.7" text-anchor="start" font-weight="normal" fill="#222" stroke="#222" stroke-width="0.3">Flur</text>
<text transform="translate(363.00 302.20)" font-size="6.7" text-anchor="start" font-weight="normal" fill="#222" stroke="#222" stroke-width="0.3">4,81 m<tspan dy="-2.8" font-size="4">2</tspan></text>
<text transform="translate(445.00 297.50)" font-size="6.7" text-anchor="start" font-weight="normal" fill="#222" stroke="#222" stroke-width="0.3">Technik</text>
<text transform="translate(445.00 305.70)" font-size="6.7" text-anchor="start" font-weight="normal" fill="#222" stroke="#222" stroke-width="0.3">11,39 m<tspan dy="-2.8" font-size="4">2</tspan></text>
<text transform="translate(538.00 213.30)" font-size="6.7" text-anchor="start" font-weight="normal" fill="#222" stroke="#222" stroke-width="0.3">Fitnes</text>
<text transform="translate(538.00 221.50)" font-size="6.7" text-anchor="start" font-weight="normal" fill="#222" stroke="#222" stroke-width="0.3">13,32 m<tspan dy="-2.8" font-size="4">2</tspan></text>
<text transform="translate(688.70 213.30)" font-size="6.7" text-anchor="start" font-weight="normal" fill="#222" stroke="#222" stroke-width="0.3">Hobby</text>
<text transform="translate(688.70 221.50)" font-size="6.7" text-anchor="start" font-weight="normal" fill="#222" stroke="#222" stroke-width="0.3">22,14 m<tspan dy="-2.8" font-size="4">2</tspan></text>
<text transform="translate(538.60 297.50)" font-size="6.7" text-anchor="start" font-weight="normal" fill="#222" stroke="#222" stroke-width="0.3">Keller</text>
<text transform="translate(538.60 305.70)" font-size="6.7" text-anchor="start" font-weight="normal" fill="#222" stroke="#222" stroke-width="0.3">6,96 m<tspan dy="-2.8" font-size="4">2</tspan></text>
<text transform="translate(601.00 294.50)" font-size="6.7" text-anchor="start" font-weight="normal" fill="#222" stroke="#222" stroke-width="0.3">Flur</text>
<text transform="translate(601.00 302.70)" font-size="6.7" text-anchor="start" font-weight="normal" fill="#222" stroke="#222" stroke-width="0.3">2,64 m<tspan dy="-2.8" font-size="4">2</tspan></text>
<text transform="translate(688.70 298.00)" font-size="6.7" text-anchor="start" font-weight="normal" fill="#222" stroke="#222" stroke-width="0.3">Technik</text>
<text transform="translate(688.70 306.20)" font-size="6.7" text-anchor="start" font-weight="normal" fill="#222" stroke="#222" stroke-width="0.3">11,64 m<tspan dy="-2.8" font-size="4">2</tspan></text>
<text transform="translate(768.30 213.30)" font-size="6.7" text-anchor="start" font-weight="normal" fill="#222" stroke="#222" stroke-width="0.3">Keller</text>
<text transform="translate(768.30 221.50)" font-size="6.7" text-anchor="start" font-weight="normal" fill="#222" stroke="#222" stroke-width="0.3">9,33 m<tspan dy="-2.8" font-size="4">2</tspan></text>
<text transform="translate(858.80 213.30)" font-size="6.7" text-anchor="start" font-weight="normal" fill="#222" stroke="#222" stroke-width="0.3">Hobby</text>
<text transform="translate(858.80 221.50)" font-size="6.7" text-anchor="start" font-weight="normal" fill="#222" stroke="#222" stroke-width="0.3">19,56 m<tspan dy="-2.8" font-size="4">2</tspan></text>
<text transform="translate(807.40 294.40)" font-size="6.7" text-anchor="start" font-weight="normal" fill="#222" stroke="#222" stroke-width="0.3">Flur</text>
<text transform="translate(807.40 302.60)" font-size="6.7" text-anchor="start" font-weight="normal" fill="#222" stroke="#222" stroke-width="0.3">4,09 m<tspan dy="-2.8" font-size="4">2</tspan></text>
<text transform="translate(860.00 297.80)" font-size="6.7" text-anchor="start" font-weight="normal" fill="#222" stroke="#222" stroke-width="0.3">Technik</text>
<text transform="translate(860.00 306.00)" font-size="6.7" text-anchor="start" font-weight="normal" fill="#222" stroke="#222" stroke-width="0.3">12,03 m<tspan dy="-2.8" font-size="4">2</tspan></text>
<text transform="translate(358.00 281.20) scale(0.76 1)" font-size="6.2" text-anchor="middle" font-weight="normal" fill="#222" stroke="#222" stroke-width="0.25">-2,84</text>
<circle cx="355" cy="284" r="1.6" fill="none" stroke="#aaa" stroke-width="0.5"/>
<text transform="translate(613.70 281.50) scale(0.76 1)" font-size="6.2" text-anchor="middle" font-weight="normal" fill="#222" stroke="#222" stroke-width="0.25">-2,84</text>
<circle cx="610.7" cy="284.3" r="1.6" fill="none" stroke="#aaa" stroke-width="0.5"/>
<text transform="translate(819.30 281.60) scale(0.76 1)" font-size="6.2" text-anchor="middle" font-weight="normal" fill="#222" stroke="#222" stroke-width="0.25">-2,84</text>
<circle cx="816.3" cy="284.4" r="1.6" fill="none" stroke="#aaa" stroke-width="0.5"/>
<line x1="529.30" y1="156.00" x2="529.30" y2="336.40" stroke="#555" stroke-width="0.7"/>
<text transform="translate(529.08 221.30) rotate(-90) scale(0.88 1)" font-size="8" text-anchor="middle" font-weight="normal" fill="#1a1a1a" stroke="#1a1a1a" stroke-width="0.3">4,42^</text>
<text transform="translate(529.08 307.50) rotate(-90) scale(0.88 1)" font-size="8" text-anchor="middle" font-weight="normal" fill="#1a1a1a" stroke="#1a1a1a" stroke-width="0.3">2,31^</text>
<line x1="661.20" y1="164.30" x2="661.20" y2="336.40" stroke="#555" stroke-width="0.7"/>
<text transform="translate(661.48 202.50) rotate(-90) scale(0.88 1)" font-size="8" text-anchor="middle" font-weight="normal" fill="#1a1a1a" stroke="#1a1a1a" stroke-width="0.3">3,83</text>
<text transform="translate(660.68 326.30) rotate(-90) scale(0.88 1)" font-size="8" text-anchor="middle" font-weight="normal" fill="#1a1a1a" stroke="#1a1a1a" stroke-width="0.3">1,46</text>
<line x1="739.60" y1="152.00" x2="739.60" y2="336.40" stroke="#555" stroke-width="0.7"/>
<text transform="translate(740.18 210.00) rotate(-90) scale(0.88 1)" font-size="8" text-anchor="middle" font-weight="normal" fill="#1a1a1a" stroke="#1a1a1a" stroke-width="0.3">4,30^</text>
<text transform="translate(739.48 306.30) rotate(-90) scale(0.88 1)" font-size="8" text-anchor="middle" font-weight="normal" fill="#1a1a1a" stroke="#1a1a1a" stroke-width="0.3">2,80^</text>
<text transform="translate(660.14 278.80) rotate(-90) scale(0.76 1)" font-size="6.5" text-anchor="middle" font-weight="normal" fill="#1a1a1a" stroke="#1a1a1a" stroke-width="0.3">2,20</text>
<text transform="translate(528.46 278.60) rotate(-90) scale(0.76 1)" font-size="6" text-anchor="middle" font-weight="normal" fill="#1a1a1a" stroke="#1a1a1a" stroke-width="0.3">10</text>
<text transform="translate(739.66 262.60) rotate(-90) scale(0.76 1)" font-size="6" text-anchor="middle" font-weight="normal" fill="#1a1a1a" stroke="#1a1a1a" stroke-width="0.3">10</text>
<text transform="translate(660.16 250.80) rotate(-90) scale(0.76 1)" font-size="6" text-anchor="middle" font-weight="normal" fill="#1a1a1a" stroke="#1a1a1a" stroke-width="0.3">10</text>
<text transform="translate(660.16 307.50) rotate(-90) scale(0.76 1)" font-size="6" text-anchor="middle" font-weight="normal" fill="#1a1a1a" stroke="#1a1a1a" stroke-width="0.3">10</text>
<line x1="527.50" y1="278.60" x2="530.50" y2="278.60" stroke="#262626" stroke-width="1.0"/>
<line x1="527.80" y1="279.80" x2="530.20" y2="277.40" stroke="#262626" stroke-width="0.6"/>
<line x1="660.00" y1="251.50" x2="663.00" y2="251.50" stroke="#262626" stroke-width="1.0"/>
<line x1="660.30" y1="252.70" x2="662.70" y2="250.30" stroke="#262626" stroke-width="0.6"/>
<line x1="660.00" y1="308.00" x2="663.00" y2="308.00" stroke="#262626" stroke-width="1.0"/>
<line x1="660.30" y1="309.20" x2="662.70" y2="306.80" stroke="#262626" stroke-width="0.6"/>
<line x1="738.10" y1="262.60" x2="741.10" y2="262.60" stroke="#262626" stroke-width="1.0"/>
<line x1="738.40" y1="263.80" x2="740.80" y2="261.40" stroke="#262626" stroke-width="0.6"/>
<line x1="240.60" y1="106.00" x2="240.60" y2="170.00" stroke="#444" stroke-width="0.8" stroke-dasharray="12 2 2 2"/>
<polygon points="242.50,108.30 248.30,114.35 242.50,120.40" fill="none" stroke="#222" stroke-width="1.3"/>
<text transform="translate(259.50 114.70) rotate(-90)" font-size="8.8" text-anchor="middle" font-weight="normal" fill="#111" stroke="#111" stroke-width="0.5">B</text>
<line x1="240.60" y1="355.00" x2="240.60" y2="393.00" stroke="#444" stroke-width="0.8" stroke-dasharray="12 2 2 2"/>
<polygon points="242.50,379.00 248.30,384.70 242.50,390.40" fill="none" stroke="#222" stroke-width="1.3"/>
<text transform="translate(259.00 385.00) rotate(-90)" font-size="8.8" text-anchor="middle" font-weight="normal" fill="#111" stroke="#111" stroke-width="0.5">B</text>
<line x1="736.50" y1="130.00" x2="736.50" y2="372.00" stroke="#555" stroke-width="0.7" stroke-dasharray="14 2 2 2"/>
<polygon points="738.40,133.80 744.20,139.90 738.40,146.00" fill="none" stroke="#222" stroke-width="1.3"/>
<text transform="translate(754.40 140.00) rotate(-90)" font-size="9.5" text-anchor="middle" font-weight="normal" fill="#111" stroke="#111" stroke-width="0.5">A</text>
<polygon points="738.40,352.00 743.90,358.00 738.40,364.00" fill="none" stroke="#222" stroke-width="1.3"/>
<text transform="translate(754.40 358.00) rotate(-90)" font-size="9.5" text-anchor="middle" font-weight="normal" fill="#111" stroke="#111" stroke-width="0.5">A</text>
<text transform="translate(208.40 235.50) scale(0.9 1)" font-size="9.5" text-anchor="middle" font-weight="normal" fill="#111" stroke="#111" stroke-width="0.9">L</text>
<polygon points="202.50,245.50 208.70,239.30 214.50,245.50" fill="none" stroke="#111" stroke-width="1.4"/>
<text transform="translate(1036.50 211.40) scale(0.9 1)" font-size="9.5" text-anchor="middle" font-weight="normal" fill="#111" stroke="#111" stroke-width="0.9">L</text>
<polygon points="1031.00,221.50 1036.80,215.00 1043.00,221.50" fill="none" stroke="#111" stroke-width="1.4"/>
<line x1="985.00" y1="223.30" x2="1045.00" y2="223.30" stroke="#333" stroke-width="0.9" stroke-dasharray="10 2.5 2 2.5"/>
<line x1="202.00" y1="247.30" x2="285.00" y2="247.30" stroke="#444" stroke-width="0.9" stroke-dasharray="12 3 2 3"/>
<text transform="translate(363.40 357.80) scale(0.92 1)" font-size="11.4" text-anchor="middle" font-weight="bold" fill="#111" stroke="#111" stroke-width="0.15">REH 1</text>
<text transform="translate(633.20 357.80) scale(1.04 1)" font-size="11.6" text-anchor="middle" font-weight="bold" fill="#111" stroke="#111" stroke-width="0.15">RMH 2</text>
<text transform="translate(832.20 357.80) scale(0.92 1)" font-size="11.4" text-anchor="middle" font-weight="bold" fill="#111" stroke="#111" stroke-width="0.15">REH 3</text>
<text transform="translate(140.6 530.2) scale(0.92 1)" font-size="14.2" fill="#454545">UG</text>
<text transform="translate(172.8 530.2) scale(0.92 1)" font-size="14.2" fill="#454545">M</text>
<text transform="translate(187.7 530.2) scale(0.92 1)" font-size="14.2" fill="#454545">=</text>
<text transform="translate(200.8 530.2) scale(0.92 1)" font-size="14.2" fill="#454545">1:100</text>
</svg></body></html>
